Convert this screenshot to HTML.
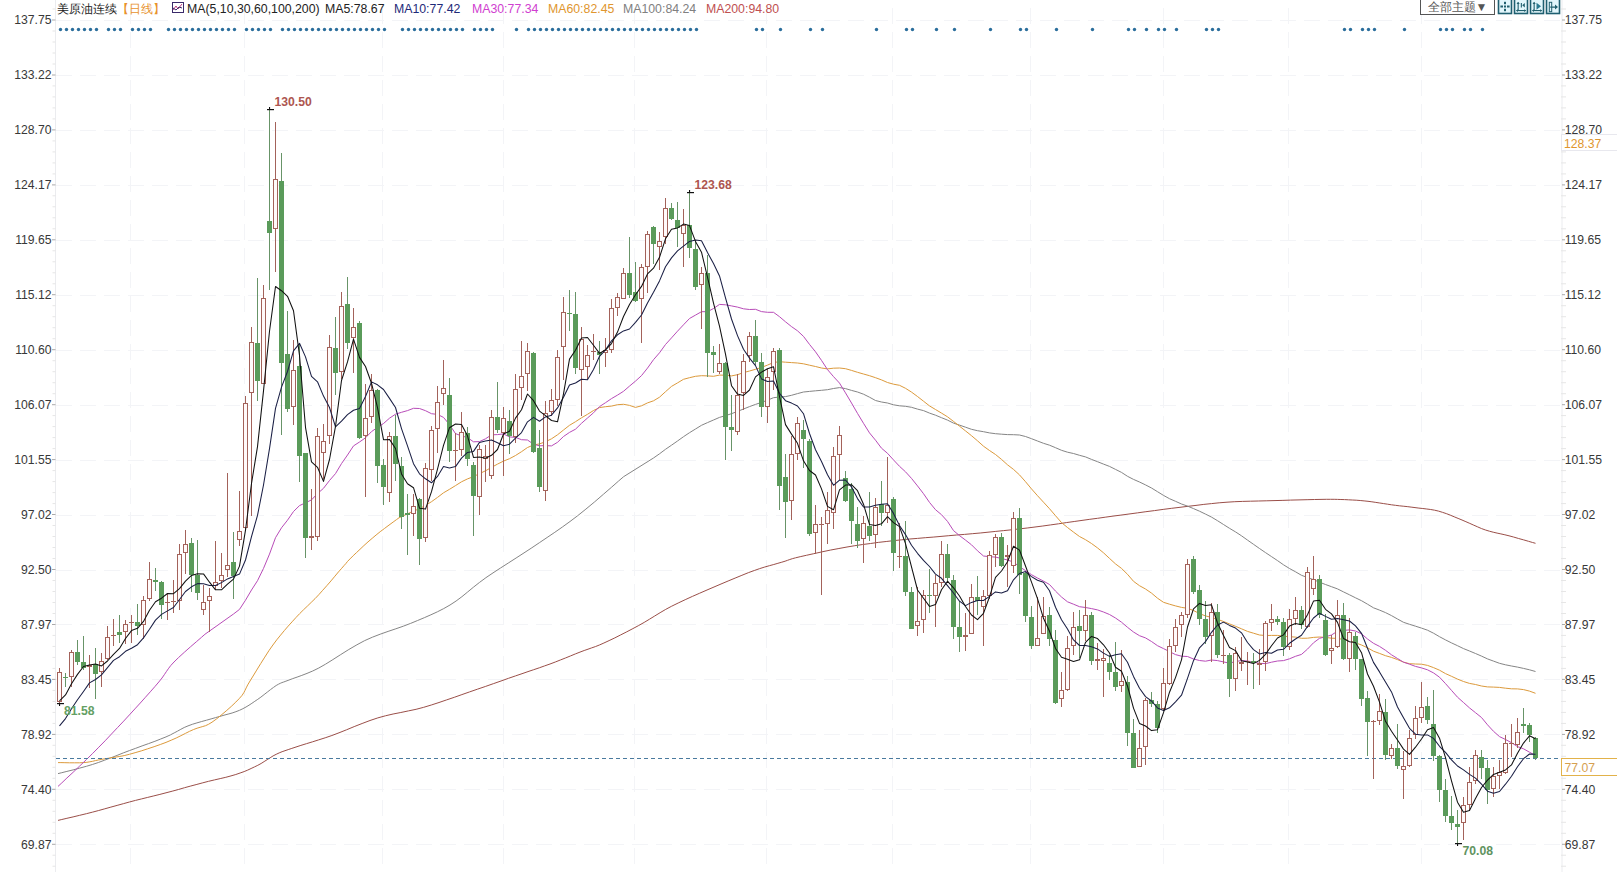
<!DOCTYPE html>
<html><head><meta charset="utf-8"><style>
html,body{margin:0;padding:0;background:#fff;}
body{width:1617px;height:872px;overflow:hidden;position:relative;font-family:"Liberation Sans",sans-serif;}
svg{position:absolute;left:0;top:0;}
svg text{font-family:"Liberation Sans",sans-serif;}
.hd{position:absolute;top:0.5px;height:16px;font-size:12.3px;line-height:16px;white-space:nowrap;}
.ic{position:absolute;top:0;width:12px;height:12px;border:1px solid #2a7fa0;background:#e4f5fb;}
</style></head><body>
<svg width="1617" height="872" viewBox="0 0 1617 872">
<line x1="56" y1="20.5" x2="1562" y2="20.5" stroke="#f3f4f7" stroke-width="1" stroke-dasharray="16,8"/>
<line x1="56" y1="75.5" x2="1562" y2="75.5" stroke="#f3f4f7" stroke-width="1" stroke-dasharray="16,8"/>
<line x1="56" y1="130.5" x2="1562" y2="130.5" stroke="#f3f4f7" stroke-width="1" stroke-dasharray="16,8"/>
<line x1="56" y1="185.5" x2="1562" y2="185.5" stroke="#f3f4f7" stroke-width="1" stroke-dasharray="16,8"/>
<line x1="56" y1="240.5" x2="1562" y2="240.5" stroke="#f3f4f7" stroke-width="1" stroke-dasharray="16,8"/>
<line x1="56" y1="295.5" x2="1562" y2="295.5" stroke="#f3f4f7" stroke-width="1" stroke-dasharray="16,8"/>
<line x1="56" y1="350.5" x2="1562" y2="350.5" stroke="#f3f4f7" stroke-width="1" stroke-dasharray="16,8"/>
<line x1="56" y1="405.5" x2="1562" y2="405.5" stroke="#f3f4f7" stroke-width="1" stroke-dasharray="16,8"/>
<line x1="56" y1="460.5" x2="1562" y2="460.5" stroke="#f3f4f7" stroke-width="1" stroke-dasharray="16,8"/>
<line x1="56" y1="515.5" x2="1562" y2="515.5" stroke="#f3f4f7" stroke-width="1" stroke-dasharray="16,8"/>
<line x1="56" y1="570.5" x2="1562" y2="570.5" stroke="#f3f4f7" stroke-width="1" stroke-dasharray="16,8"/>
<line x1="56" y1="624.5" x2="1562" y2="624.5" stroke="#f3f4f7" stroke-width="1" stroke-dasharray="16,8"/>
<line x1="56" y1="679.5" x2="1562" y2="679.5" stroke="#f3f4f7" stroke-width="1" stroke-dasharray="16,8"/>
<line x1="56" y1="734.5" x2="1562" y2="734.5" stroke="#f3f4f7" stroke-width="1" stroke-dasharray="16,8"/>
<line x1="56" y1="789.5" x2="1562" y2="789.5" stroke="#f3f4f7" stroke-width="1" stroke-dasharray="16,8"/>
<line x1="56" y1="844.5" x2="1562" y2="844.5" stroke="#f3f4f7" stroke-width="1" stroke-dasharray="16,8"/>
<line x1="130.5" y1="8" x2="130.5" y2="872" stroke="#f3f4f7" stroke-width="1" stroke-dasharray="16,8"/>
<line x1="244.5" y1="8" x2="244.5" y2="872" stroke="#f3f4f7" stroke-width="1" stroke-dasharray="16,8"/>
<line x1="382.5" y1="8" x2="382.5" y2="872" stroke="#f3f4f7" stroke-width="1" stroke-dasharray="16,8"/>
<line x1="503.5" y1="8" x2="503.5" y2="872" stroke="#f3f4f7" stroke-width="1" stroke-dasharray="16,8"/>
<line x1="634.5" y1="8" x2="634.5" y2="872" stroke="#f3f4f7" stroke-width="1" stroke-dasharray="16,8"/>
<line x1="766.5" y1="8" x2="766.5" y2="872" stroke="#f3f4f7" stroke-width="1" stroke-dasharray="16,8"/>
<line x1="892.5" y1="8" x2="892.5" y2="872" stroke="#f3f4f7" stroke-width="1" stroke-dasharray="16,8"/>
<line x1="1030.5" y1="8" x2="1030.5" y2="872" stroke="#f3f4f7" stroke-width="1" stroke-dasharray="16,8"/>
<line x1="1163.5" y1="8" x2="1163.5" y2="872" stroke="#f3f4f7" stroke-width="1" stroke-dasharray="16,8"/>
<line x1="1288.5" y1="8" x2="1288.5" y2="872" stroke="#f3f4f7" stroke-width="1" stroke-dasharray="16,8"/>
<line x1="1421.5" y1="8" x2="1421.5" y2="872" stroke="#f3f4f7" stroke-width="1" stroke-dasharray="16,8"/>
<line x1="55.5" y1="0" x2="55.5" y2="872" stroke="#ebecef" stroke-width="1"/>
<line x1="1562" y1="0" x2="1562" y2="872" stroke="#ebecef" stroke-width="1"/>
<rect x="52.5" y="8.5" width="3" height="1" fill="#e6e6e6"/>
<rect x="1561" y="8.5" width="5" height="1" fill="#e6e6e6"/>
<rect x="52.5" y="30.5" width="3" height="1" fill="#e6e6e6"/>
<rect x="1561" y="30.5" width="5" height="1" fill="#e6e6e6"/>
<rect x="52.5" y="41.5" width="3" height="1" fill="#e6e6e6"/>
<rect x="1561" y="41.5" width="5" height="1" fill="#e6e6e6"/>
<rect x="52.5" y="52.5" width="3" height="1" fill="#e6e6e6"/>
<rect x="1561" y="52.5" width="5" height="1" fill="#e6e6e6"/>
<rect x="52.5" y="63.5" width="3" height="1" fill="#e6e6e6"/>
<rect x="1561" y="63.5" width="5" height="1" fill="#e6e6e6"/>
<rect x="52.5" y="85.4" width="3" height="1" fill="#e6e6e6"/>
<rect x="1561" y="85.4" width="5" height="1" fill="#e6e6e6"/>
<rect x="52.5" y="96.4" width="3" height="1" fill="#e6e6e6"/>
<rect x="1561" y="96.4" width="5" height="1" fill="#e6e6e6"/>
<rect x="52.5" y="107.4" width="3" height="1" fill="#e6e6e6"/>
<rect x="1561" y="107.4" width="5" height="1" fill="#e6e6e6"/>
<rect x="52.5" y="118.4" width="3" height="1" fill="#e6e6e6"/>
<rect x="1561" y="118.4" width="5" height="1" fill="#e6e6e6"/>
<rect x="52.5" y="140.4" width="3" height="1" fill="#e6e6e6"/>
<rect x="1561" y="140.4" width="5" height="1" fill="#e6e6e6"/>
<rect x="52.5" y="151.4" width="3" height="1" fill="#e6e6e6"/>
<rect x="1561" y="151.4" width="5" height="1" fill="#e6e6e6"/>
<rect x="52.5" y="162.4" width="3" height="1" fill="#e6e6e6"/>
<rect x="1561" y="162.4" width="5" height="1" fill="#e6e6e6"/>
<rect x="52.5" y="173.4" width="3" height="1" fill="#e6e6e6"/>
<rect x="1561" y="173.4" width="5" height="1" fill="#e6e6e6"/>
<rect x="52.5" y="195.3" width="3" height="1" fill="#e6e6e6"/>
<rect x="1561" y="195.3" width="5" height="1" fill="#e6e6e6"/>
<rect x="52.5" y="206.3" width="3" height="1" fill="#e6e6e6"/>
<rect x="1561" y="206.3" width="5" height="1" fill="#e6e6e6"/>
<rect x="52.5" y="217.3" width="3" height="1" fill="#e6e6e6"/>
<rect x="1561" y="217.3" width="5" height="1" fill="#e6e6e6"/>
<rect x="52.5" y="228.3" width="3" height="1" fill="#e6e6e6"/>
<rect x="1561" y="228.3" width="5" height="1" fill="#e6e6e6"/>
<rect x="52.5" y="250.3" width="3" height="1" fill="#e6e6e6"/>
<rect x="1561" y="250.3" width="5" height="1" fill="#e6e6e6"/>
<rect x="52.5" y="261.3" width="3" height="1" fill="#e6e6e6"/>
<rect x="1561" y="261.3" width="5" height="1" fill="#e6e6e6"/>
<rect x="52.5" y="272.3" width="3" height="1" fill="#e6e6e6"/>
<rect x="1561" y="272.3" width="5" height="1" fill="#e6e6e6"/>
<rect x="52.5" y="283.3" width="3" height="1" fill="#e6e6e6"/>
<rect x="1561" y="283.3" width="5" height="1" fill="#e6e6e6"/>
<rect x="52.5" y="305.2" width="3" height="1" fill="#e6e6e6"/>
<rect x="1561" y="305.2" width="5" height="1" fill="#e6e6e6"/>
<rect x="52.5" y="316.2" width="3" height="1" fill="#e6e6e6"/>
<rect x="1561" y="316.2" width="5" height="1" fill="#e6e6e6"/>
<rect x="52.5" y="327.2" width="3" height="1" fill="#e6e6e6"/>
<rect x="1561" y="327.2" width="5" height="1" fill="#e6e6e6"/>
<rect x="52.5" y="338.2" width="3" height="1" fill="#e6e6e6"/>
<rect x="1561" y="338.2" width="5" height="1" fill="#e6e6e6"/>
<rect x="52.5" y="360.2" width="3" height="1" fill="#e6e6e6"/>
<rect x="1561" y="360.2" width="5" height="1" fill="#e6e6e6"/>
<rect x="52.5" y="371.2" width="3" height="1" fill="#e6e6e6"/>
<rect x="1561" y="371.2" width="5" height="1" fill="#e6e6e6"/>
<rect x="52.5" y="382.2" width="3" height="1" fill="#e6e6e6"/>
<rect x="1561" y="382.2" width="5" height="1" fill="#e6e6e6"/>
<rect x="52.5" y="393.2" width="3" height="1" fill="#e6e6e6"/>
<rect x="1561" y="393.2" width="5" height="1" fill="#e6e6e6"/>
<rect x="52.5" y="415.1" width="3" height="1" fill="#e6e6e6"/>
<rect x="1561" y="415.1" width="5" height="1" fill="#e6e6e6"/>
<rect x="52.5" y="426.1" width="3" height="1" fill="#e6e6e6"/>
<rect x="1561" y="426.1" width="5" height="1" fill="#e6e6e6"/>
<rect x="52.5" y="437.1" width="3" height="1" fill="#e6e6e6"/>
<rect x="1561" y="437.1" width="5" height="1" fill="#e6e6e6"/>
<rect x="52.5" y="448.1" width="3" height="1" fill="#e6e6e6"/>
<rect x="1561" y="448.1" width="5" height="1" fill="#e6e6e6"/>
<rect x="52.5" y="470.1" width="3" height="1" fill="#e6e6e6"/>
<rect x="1561" y="470.1" width="5" height="1" fill="#e6e6e6"/>
<rect x="52.5" y="481.1" width="3" height="1" fill="#e6e6e6"/>
<rect x="1561" y="481.1" width="5" height="1" fill="#e6e6e6"/>
<rect x="52.5" y="492.1" width="3" height="1" fill="#e6e6e6"/>
<rect x="1561" y="492.1" width="5" height="1" fill="#e6e6e6"/>
<rect x="52.5" y="503.1" width="3" height="1" fill="#e6e6e6"/>
<rect x="1561" y="503.1" width="5" height="1" fill="#e6e6e6"/>
<rect x="52.5" y="525.0" width="3" height="1" fill="#e6e6e6"/>
<rect x="1561" y="525.0" width="5" height="1" fill="#e6e6e6"/>
<rect x="52.5" y="536.0" width="3" height="1" fill="#e6e6e6"/>
<rect x="1561" y="536.0" width="5" height="1" fill="#e6e6e6"/>
<rect x="52.5" y="547.0" width="3" height="1" fill="#e6e6e6"/>
<rect x="1561" y="547.0" width="5" height="1" fill="#e6e6e6"/>
<rect x="52.5" y="558.0" width="3" height="1" fill="#e6e6e6"/>
<rect x="1561" y="558.0" width="5" height="1" fill="#e6e6e6"/>
<rect x="52.5" y="580.0" width="3" height="1" fill="#e6e6e6"/>
<rect x="1561" y="580.0" width="5" height="1" fill="#e6e6e6"/>
<rect x="52.5" y="591.0" width="3" height="1" fill="#e6e6e6"/>
<rect x="1561" y="591.0" width="5" height="1" fill="#e6e6e6"/>
<rect x="52.5" y="602.0" width="3" height="1" fill="#e6e6e6"/>
<rect x="1561" y="602.0" width="5" height="1" fill="#e6e6e6"/>
<rect x="52.5" y="613.0" width="3" height="1" fill="#e6e6e6"/>
<rect x="1561" y="613.0" width="5" height="1" fill="#e6e6e6"/>
<rect x="52.5" y="634.9" width="3" height="1" fill="#e6e6e6"/>
<rect x="1561" y="634.9" width="5" height="1" fill="#e6e6e6"/>
<rect x="52.5" y="645.9" width="3" height="1" fill="#e6e6e6"/>
<rect x="1561" y="645.9" width="5" height="1" fill="#e6e6e6"/>
<rect x="52.5" y="656.9" width="3" height="1" fill="#e6e6e6"/>
<rect x="1561" y="656.9" width="5" height="1" fill="#e6e6e6"/>
<rect x="52.5" y="667.9" width="3" height="1" fill="#e6e6e6"/>
<rect x="1561" y="667.9" width="5" height="1" fill="#e6e6e6"/>
<rect x="52.5" y="689.9" width="3" height="1" fill="#e6e6e6"/>
<rect x="1561" y="689.9" width="5" height="1" fill="#e6e6e6"/>
<rect x="52.5" y="700.9" width="3" height="1" fill="#e6e6e6"/>
<rect x="1561" y="700.9" width="5" height="1" fill="#e6e6e6"/>
<rect x="52.5" y="711.9" width="3" height="1" fill="#e6e6e6"/>
<rect x="1561" y="711.9" width="5" height="1" fill="#e6e6e6"/>
<rect x="52.5" y="722.9" width="3" height="1" fill="#e6e6e6"/>
<rect x="1561" y="722.9" width="5" height="1" fill="#e6e6e6"/>
<rect x="52.5" y="744.8" width="3" height="1" fill="#e6e6e6"/>
<rect x="1561" y="744.8" width="5" height="1" fill="#e6e6e6"/>
<rect x="52.5" y="755.8" width="3" height="1" fill="#e6e6e6"/>
<rect x="1561" y="755.8" width="5" height="1" fill="#e6e6e6"/>
<rect x="52.5" y="766.8" width="3" height="1" fill="#e6e6e6"/>
<rect x="1561" y="766.8" width="5" height="1" fill="#e6e6e6"/>
<rect x="52.5" y="777.8" width="3" height="1" fill="#e6e6e6"/>
<rect x="1561" y="777.8" width="5" height="1" fill="#e6e6e6"/>
<rect x="52.5" y="799.8" width="3" height="1" fill="#e6e6e6"/>
<rect x="1561" y="799.8" width="5" height="1" fill="#e6e6e6"/>
<rect x="52.5" y="810.8" width="3" height="1" fill="#e6e6e6"/>
<rect x="1561" y="810.8" width="5" height="1" fill="#e6e6e6"/>
<rect x="52.5" y="821.8" width="3" height="1" fill="#e6e6e6"/>
<rect x="1561" y="821.8" width="5" height="1" fill="#e6e6e6"/>
<rect x="52.5" y="832.8" width="3" height="1" fill="#e6e6e6"/>
<rect x="1561" y="832.8" width="5" height="1" fill="#e6e6e6"/>
<rect x="52.5" y="854.7" width="3" height="1" fill="#e6e6e6"/>
<rect x="1561" y="854.7" width="5" height="1" fill="#e6e6e6"/>
<rect x="52.5" y="865.7" width="3" height="1" fill="#e6e6e6"/>
<rect x="1561" y="865.7" width="5" height="1" fill="#e6e6e6"/>
<polyline points="58.0,820.4 61.8,819.5 66.9,818.3 73.1,816.9 79.7,815.3 86.4,813.7 92.7,812.1 98.7,810.5 104.8,808.8 110.9,807.1 117.1,805.4 123.3,803.7 129.4,802.0 135.5,800.4 141.6,798.9 147.7,797.4 153.8,795.9 159.9,794.4 166.0,792.8 172.2,791.2 178.4,789.5 184.6,787.7 190.8,786.0 196.9,784.4 202.8,782.8 208.6,781.3 214.5,779.9 220.2,778.6 225.8,777.3 231.0,775.9 235.8,774.5 240.1,773.0 244.1,771.6 247.7,770.1 251.1,768.5 254.5,766.9 257.8,765.3 261.1,763.5 264.1,761.6 267.1,759.7 270.1,757.8 273.1,755.9 276.2,754.3 279.2,752.9 282.1,751.7 285.0,750.7 288.2,749.6 291.8,748.4 296.0,747.0 300.9,745.4 306.4,743.7 312.3,741.9 318.6,739.9 325.2,737.8 331.9,735.5 339.0,732.8 346.5,729.8 354.2,726.6 362.1,723.5 370.0,720.5 377.8,717.9 385.4,715.8 393.1,714.0 400.8,712.5 408.4,710.9 416.1,709.3 423.7,707.3 431.3,705.0 439.0,702.5 446.6,699.9 454.3,697.3 461.9,694.6 469.6,691.9 477.4,689.2 485.3,686.5 493.3,683.7 501.0,681.0 508.5,678.3 515.5,675.9 522.0,673.7 528.0,671.6 533.7,669.7 539.3,667.8 544.6,665.9 550.0,664.0 555.3,662.0 560.6,659.9 565.7,657.9 570.6,655.9 575.4,653.9 580.0,652.1 584.2,650.5 588.0,649.2 591.6,647.9 595.4,646.6 599.4,645.0 603.9,643.0 609.1,640.6 614.8,637.9 620.7,634.9 626.8,631.8 632.9,628.6 638.7,625.5 644.2,622.4 649.5,619.2 654.7,616.0 660.1,612.7 665.7,609.4 671.7,606.2 678.2,603.0 685.2,599.7 692.4,596.4 699.7,593.2 707.0,590.0 714.0,587.0 721.0,584.0 728.1,581.0 735.1,578.1 741.9,575.3 748.3,572.7 754.3,570.5 759.7,568.6 764.8,567.0 769.4,565.7 773.8,564.5 777.9,563.3 781.8,562.2 785.1,561.2 787.6,560.3 789.8,559.5 792.3,558.7 795.6,557.8 800.2,556.7 806.4,555.3 813.7,553.7 821.8,551.9 830.3,550.1 838.9,548.5 847.0,547.0 854.8,545.7 862.7,544.5 870.5,543.5 878.3,542.4 886.2,541.5 894.0,540.6 901.8,539.8 909.7,539.0 917.5,538.4 925.3,537.7 933.2,537.1 941.0,536.4 948.8,535.7 956.7,535.0 964.5,534.4 972.3,533.7 980.2,533.0 988.0,532.2 995.8,531.4 1003.7,530.6 1011.5,529.8 1019.3,528.9 1027.2,528.0 1035.0,527.0 1042.8,526.0 1050.7,524.9 1058.5,523.8 1066.3,522.6 1074.2,521.5 1082.0,520.4 1089.8,519.3 1097.5,518.3 1105.2,517.2 1113.0,516.1 1120.9,515.1 1129.0,514.0 1137.3,512.9 1145.9,511.7 1154.5,510.6 1163.1,509.4 1171.7,508.3 1180.0,507.3 1188.1,506.3 1196.0,505.4 1203.8,504.4 1211.5,503.6 1219.2,502.8 1227.0,502.2 1234.8,501.7 1242.7,501.4 1250.5,501.2 1258.3,501.0 1266.2,500.8 1274.0,500.6 1282.1,500.4 1290.5,500.1 1299.0,499.9 1307.1,499.7 1314.5,499.5 1321.0,499.4 1326.3,499.3 1330.6,499.3 1334.2,499.3 1337.5,499.4 1340.9,499.5 1344.5,499.6 1348.4,499.8 1352.3,500.0 1356.2,500.2 1360.2,500.5 1364.1,500.9 1368.0,501.3 1371.9,501.8 1375.8,502.4 1379.8,503.0 1383.7,503.6 1387.6,504.2 1391.5,504.8 1395.4,505.3 1399.3,505.8 1403.2,506.2 1407.2,506.6 1411.1,507.1 1415.0,507.6 1418.9,508.1 1422.8,508.5 1426.8,509.0 1430.7,509.5 1434.6,510.2 1438.5,511.1 1442.4,512.3 1446.3,513.6 1450.2,515.1 1454.2,516.8 1458.1,518.4 1462.0,520.0 1465.9,521.7 1469.8,523.4 1473.8,525.2 1477.7,526.9 1481.6,528.6 1485.5,530.0 1489.4,531.2 1493.2,532.2 1497.1,533.1 1500.9,533.9 1504.9,534.8 1509.0,535.8 1513.5,537.0 1518.6,538.5 1523.7,539.9 1528.5,541.3 1532.6,542.5 1535.5,543.3" fill="none" stroke="#9a4e48" stroke-width="1" stroke-linejoin="round"/>
<polyline points="58.0,773.6 61.8,772.7 66.9,771.4 73.1,769.9 79.7,768.1 86.4,766.3 92.7,764.4 98.7,762.4 104.8,760.1 110.9,757.8 117.1,755.4 123.3,752.9 129.4,750.6 135.7,748.3 142.1,745.9 148.6,743.6 154.9,741.3 160.7,739.0 166.0,736.9 170.4,734.9 174.2,732.9 177.6,731.1 180.8,729.3 184.2,727.5 188.0,725.9 192.3,724.3 196.9,722.9 201.7,721.5 206.5,720.2 211.1,718.9 215.6,717.6 219.9,716.4 224.0,715.2 228.1,714.1 232.1,713.0 235.9,711.7 239.5,710.3 242.9,708.7 246.0,707.0 249.0,705.2 251.9,703.3 254.8,701.3 257.8,699.3 260.9,697.1 264.1,694.6 267.3,692.1 270.5,689.6 273.5,687.4 276.2,685.5 278.5,684.2 280.3,683.3 281.9,682.6 283.7,682.0 285.9,681.2 289.0,680.0 292.8,678.6 297.1,677.1 301.8,675.4 307.0,673.4 312.7,671.0 318.8,668.0 325.5,664.2 332.9,659.6 340.7,654.6 348.8,649.5 356.9,644.8 364.7,640.6 372.4,637.2 380.2,634.2 388.1,631.4 395.8,628.8 403.3,626.2 410.6,623.4 417.6,620.5 424.3,617.7 430.9,614.8 437.4,611.8 443.7,608.6 450.0,605.0 456.1,601.0 461.9,596.7 467.5,592.1 473.3,587.3 479.4,582.5 485.9,577.7 493.0,572.9 500.5,568.0 508.2,563.1 516.1,558.0 524.0,552.9 531.8,547.8 539.4,542.7 547.1,537.5 554.8,532.3 562.4,527.0 570.0,521.5 577.7,515.7 585.9,509.1 594.7,501.8 603.5,494.2 611.7,487.1 618.6,481.0 623.6,476.7 653.5,458.0 659.5,453.8 665.5,449.3 671.5,445.2 677.5,441.0 683.5,436.7 689.5,432.7 695.5,429.0 701.5,425.3 707.5,422.6 713.5,420.0 719.5,417.4 725.5,415.6 731.5,413.7 737.5,411.4 743.5,409.0 749.5,406.6 755.5,404.4 761.5,402.4 767.5,400.2 773.5,397.7 779.5,397.0 785.5,396.6 791.5,395.3 797.5,393.6 803.5,392.0 809.5,391.4 815.5,390.8 821.5,390.3 827.5,389.7 833.5,388.5 839.5,387.6 845.5,388.6 851.5,390.4 857.5,392.0 863.5,394.2 869.5,397.2 875.5,400.5 881.5,402.0 887.5,403.0 893.5,404.8 899.5,405.8 905.5,406.3 911.5,407.3 917.5,409.1 923.5,410.6 929.5,413.1 935.5,415.2 941.5,417.7 947.5,420.1 953.5,423.1 959.5,425.1 965.5,427.2 971.5,429.3 977.5,430.7 983.5,431.7 989.5,432.9 995.5,433.7 1001.5,434.2 1007.5,434.6 1013.5,434.7 1019.5,435.0 1025.5,436.5 1031.5,438.7 1037.5,441.0 1043.5,443.3 1049.5,445.2 1055.5,447.7 1061.5,450.3 1067.5,452.2 1073.5,453.5 1079.5,455.3 1085.5,456.9 1091.5,459.4 1097.5,461.7 1103.5,464.1 1109.5,466.4 1115.5,469.4 1121.5,472.4 1127.5,476.3 1133.5,479.4 1139.5,482.0 1145.5,484.9 1151.5,488.0 1157.5,491.7 1163.5,495.4 1169.5,498.7 1175.5,501.3 1181.5,504.0 1187.5,506.1 1193.5,508.6 1199.5,511.2 1205.5,514.1 1211.5,517.1 1217.5,520.7 1223.5,524.5 1229.5,528.3 1235.5,531.9 1241.5,535.8 1247.5,540.1 1253.5,544.3 1259.5,548.5 1265.5,552.6 1271.5,556.6 1277.5,560.6 1283.5,564.8 1289.5,568.5 1295.5,571.8 1301.5,575.3 1307.5,577.5 1313.5,579.7 1319.5,582.2 1325.5,584.5 1331.5,586.7 1337.5,588.9 1343.5,591.9 1349.5,594.8 1355.5,597.8 1361.5,600.7 1367.5,604.2 1373.5,607.8 1379.5,610.1 1385.5,612.6 1391.5,615.6 1397.5,619.0 1403.5,622.3 1409.5,624.3 1415.5,626.2 1421.5,628.1 1427.5,630.2 1433.5,633.2 1439.5,636.7 1445.5,639.9 1451.5,642.9 1457.5,645.7 1463.5,648.6 1469.5,651.0 1475.5,653.5 1481.5,656.1 1487.5,658.9 1493.5,661.1 1499.5,663.3 1505.5,664.8 1511.5,666.0 1517.5,667.1 1523.5,668.4 1529.5,669.8 1535.5,671.5" fill="none" stroke="#858585" stroke-width="1" stroke-linejoin="round"/>
<polyline points="58.0,762.6 60.9,762.6 64.9,762.7 69.6,762.8 74.6,762.8 79.4,762.8 83.5,762.6 86.9,762.3 89.8,761.8 92.6,761.3 95.4,760.6 98.4,760.0 101.9,759.3 105.9,758.6 110.1,758.0 114.5,757.3 119.2,756.5 124.2,755.6 129.4,754.3 135.1,752.7 141.3,750.9 147.7,748.8 154.1,746.7 160.3,744.5 166.0,742.4 171.2,740.2 176.2,738.0 180.9,735.7 185.4,733.4 189.6,731.3 193.6,729.5 197.1,728.2 200.1,727.3 202.8,726.5 205.5,725.7 208.5,724.3 212.0,722.2 216.3,719.1 221.1,715.2 226.2,710.9 231.3,706.4 235.8,702.1 239.5,698.3 242.1,695.3 243.8,692.7 245.0,690.4 246.2,687.9 247.7,684.9 250.0,681.0 253.1,676.0 256.7,670.1 260.7,663.6 264.8,657.1 268.9,650.7 272.9,645.0 276.7,639.9 280.6,635.1 284.4,630.5 288.2,626.1 292.1,621.8 295.9,617.6 299.7,613.6 303.5,609.8 307.4,606.1 311.2,602.4 315.0,598.7 318.8,594.7 322.7,590.3 326.9,585.6 331.0,580.9 334.9,576.2 338.5,571.9 341.7,568.3 344.1,565.5 346.0,563.4 347.4,561.6 348.9,560.0 350.8,558.1 353.2,555.7 356.4,552.7 360.0,549.3 363.9,545.6 368.0,541.9 372.2,538.3 376.1,535.0 380.2,531.7 384.6,528.4 389.0,525.1 393.1,522.1 396.5,519.6 399.0,517.8 413.5,511.0 419.5,508.8 425.5,505.4 431.5,501.7 437.5,497.4 443.5,492.8 449.5,489.3 455.5,485.6 461.5,481.8 467.5,478.9 473.5,476.6 479.5,473.6 485.5,470.8 491.5,467.4 497.5,464.1 503.5,461.1 509.5,458.7 515.5,455.5 521.5,451.7 527.5,447.5 533.5,445.0 539.5,443.9 545.5,441.7 551.5,438.8 557.5,434.8 563.5,430.0 569.5,425.3 575.5,421.7 581.5,417.8 587.5,414.3 593.5,410.5 599.5,407.6 605.5,406.7 611.5,406.1 617.5,404.7 623.5,404.3 629.5,405.4 635.5,407.4 641.5,405.8 647.5,402.9 653.5,400.8 659.5,397.2 665.5,391.7 671.5,386.4 677.5,382.9 683.5,379.3 689.5,377.7 695.5,376.3 701.5,375.7 707.5,375.9 713.5,376.3 719.5,375.1 725.5,375.2 731.5,375.9 737.5,374.7 743.5,372.6 749.5,371.0 755.5,369.3 761.5,367.4 767.5,365.1 773.5,362.5 779.5,361.7 785.5,362.2 791.5,362.6 797.5,363.0 803.5,363.8 809.5,365.2 815.5,366.5 821.5,368.0 827.5,368.9 833.5,368.2 839.5,368.0 845.5,368.7 851.5,370.4 857.5,372.3 863.5,374.0 869.5,375.7 875.5,377.7 881.5,379.9 887.5,382.5 893.5,384.2 899.5,385.3 905.5,388.3 911.5,392.1 917.5,396.5 923.5,401.2 929.5,405.9 935.5,409.5 941.5,413.1 947.5,416.8 953.5,421.4 959.5,426.2 965.5,430.9 971.5,435.7 977.5,440.8 983.5,446.2 989.5,450.5 995.5,454.5 1001.5,459.4 1007.5,464.8 1013.5,469.4 1019.5,474.9 1025.5,481.7 1031.5,488.9 1037.5,495.7 1043.5,502.2 1049.5,508.7 1055.5,515.7 1061.5,522.6 1067.5,527.5 1073.5,532.1 1079.5,536.5 1085.5,539.7 1091.5,543.5 1097.5,547.9 1103.5,552.8 1109.5,558.4 1115.5,563.9 1121.5,568.4 1127.5,574.3 1133.5,581.3 1139.5,585.7 1145.5,589.0 1151.5,593.1 1157.5,598.2 1163.5,602.3 1169.5,604.2 1175.5,605.9 1181.5,607.4 1187.5,608.3 1193.5,610.5 1199.5,613.6 1205.5,615.9 1211.5,617.4 1217.5,619.3 1223.5,621.5 1229.5,623.9 1235.5,626.3 1241.5,628.8 1247.5,631.4 1253.5,633.2 1259.5,635.0 1265.5,635.5 1271.5,635.4 1277.5,635.4 1283.5,636.3 1289.5,636.7 1295.5,637.1 1301.5,638.3 1307.5,638.2 1313.5,637.4 1319.5,637.0 1325.5,637.4 1331.5,638.2 1337.5,638.4 1343.5,639.5 1349.5,640.8 1355.5,642.8 1361.5,645.0 1367.5,647.8 1373.5,651.2 1379.5,653.4 1385.5,655.7 1391.5,657.4 1397.5,659.6 1403.5,662.1 1409.5,663.7 1415.5,664.0 1421.5,664.2 1427.5,665.4 1433.5,667.6 1439.5,670.2 1445.5,673.6 1451.5,676.3 1457.5,679.1 1463.5,681.5 1469.5,683.4 1475.5,684.5 1481.5,686.0 1487.5,686.9 1493.5,687.1 1499.5,687.4 1505.5,688.2 1511.5,688.8 1517.5,688.9 1523.5,689.6 1529.5,691.1 1535.5,693.3" fill="none" stroke="#dc9a3c" stroke-width="1" stroke-linejoin="round"/>
<polyline points="58.0,786.4 61.8,782.9 66.9,778.0 73.1,772.3 79.7,766.0 86.4,759.6 92.7,753.4 98.8,747.2 105.1,740.8 111.4,734.1 117.6,727.5 123.7,721.1 129.4,714.9 134.9,708.9 140.3,703.0 145.4,697.3 150.3,691.8 154.8,686.7 158.8,682.0 162.0,678.0 164.3,674.7 166.3,671.7 168.3,668.8 170.7,665.6 174.0,662.0 178.6,657.5 184.3,652.3 190.4,646.9 196.3,641.8 201.4,637.4 204.9,634.3 233.5,614.0 239.5,609.4 245.5,600.2 251.5,590.0 257.5,580.7 263.5,568.4 269.5,554.1 275.5,537.7 281.5,527.8 287.5,520.2 293.5,511.5 299.5,505.6 305.5,502.8 311.5,499.9 317.5,493.6 323.5,488.3 329.5,480.5 335.5,473.6 341.5,463.6 347.5,455.0 353.5,445.9 359.5,442.0 365.5,437.8 371.5,431.6 377.5,427.4 383.5,423.5 389.5,418.2 395.5,414.2 401.5,412.3 407.5,410.6 413.5,408.3 419.5,408.5 425.5,410.7 431.5,413.7 437.5,414.4 443.5,417.4 449.5,424.6 455.5,433.6 461.5,435.9 467.5,437.6 473.5,441.8 479.5,441.6 485.5,438.8 491.5,434.8 497.5,434.6 503.5,433.9 509.5,436.9 515.5,437.4 521.5,439.7 527.5,440.0 533.5,444.2 539.5,445.8 545.5,445.6 551.5,445.9 557.5,442.3 563.5,436.5 569.5,432.4 575.5,429.2 581.5,423.3 587.5,418.0 593.5,412.8 599.5,406.6 605.5,402.7 611.5,398.6 617.5,395.1 623.5,391.3 629.5,386.1 635.5,381.1 641.5,375.6 647.5,368.1 653.5,359.7 659.5,352.8 665.5,344.5 671.5,337.9 677.5,331.2 683.5,324.8 689.5,318.5 695.5,315.1 701.5,311.7 707.5,311.7 713.5,308.5 719.5,304.4 725.5,304.8 731.5,305.9 737.5,307.1 743.5,308.8 749.5,309.5 755.5,309.3 761.5,311.6 767.5,312.3 773.5,312.3 779.5,316.7 785.5,321.8 791.5,326.6 797.5,330.8 803.5,336.4 809.5,344.4 815.5,351.8 821.5,360.4 827.5,369.6 833.5,376.6 839.5,383.1 845.5,392.9 851.5,403.0 857.5,413.4 863.5,423.3 869.5,432.9 875.5,440.2 881.5,448.2 887.5,453.3 893.5,459.9 899.5,466.3 905.5,471.8 911.5,478.4 917.5,485.9 923.5,493.7 929.5,502.4 935.5,509.7 941.5,514.7 947.5,521.4 953.5,530.6 959.5,535.6 965.5,540.1 971.5,544.8 977.5,550.8 983.5,556.0 989.5,556.7 995.5,557.1 1001.5,558.5 1007.5,560.0 1013.5,562.1 1019.5,566.7 1025.5,570.6 1031.5,574.7 1037.5,578.0 1043.5,581.1 1049.5,584.5 1055.5,591.1 1061.5,597.0 1067.5,601.8 1073.5,604.2 1079.5,606.7 1085.5,607.5 1091.5,608.6 1097.5,609.9 1103.5,612.0 1109.5,614.5 1115.5,618.0 1121.5,622.2 1127.5,627.3 1133.5,632.0 1139.5,635.7 1145.5,637.9 1151.5,641.5 1157.5,645.7 1163.5,648.6 1169.5,651.6 1175.5,654.6 1181.5,656.2 1187.5,656.5 1193.5,659.0 1199.5,660.5 1205.5,661.2 1211.5,660.0 1217.5,660.6 1223.5,661.9 1229.5,663.2 1235.5,661.5 1241.5,660.6 1247.5,661.0 1253.5,662.2 1259.5,663.3 1265.5,663.6 1271.5,662.2 1277.5,661.0 1283.5,660.6 1289.5,658.8 1295.5,656.3 1301.5,654.4 1307.5,649.1 1313.5,642.8 1319.5,638.3 1325.5,636.8 1331.5,635.0 1337.5,631.2 1343.5,630.4 1349.5,629.9 1355.5,631.0 1361.5,633.8 1367.5,639.0 1373.5,643.3 1379.5,646.4 1385.5,650.3 1391.5,654.8 1397.5,658.5 1403.5,662.2 1409.5,664.2 1415.5,666.4 1421.5,667.9 1427.5,669.8 1433.5,672.9 1439.5,677.2 1445.5,683.6 1451.5,690.4 1457.5,697.2 1463.5,702.5 1469.5,707.9 1475.5,712.7 1481.5,717.5 1487.5,724.8 1493.5,731.3 1499.5,736.6 1505.5,739.5 1511.5,742.7 1517.5,746.6 1523.5,748.8 1529.5,752.2 1535.5,755.5" fill="none" stroke="#b84cb8" stroke-width="1" stroke-linejoin="round"/>
<line x1="56" y1="758.5" x2="1562" y2="758.5" stroke="#4a7a9e" stroke-width="1" stroke-dasharray="4,3"/>
<rect x="59" y="668" width="1" height="4" fill="#a3625a"/>
<rect x="59" y="702" width="1" height="1" fill="#a3625a"/>
<rect x="57.5" y="672.5" width="4" height="29" fill="#fffafa" stroke="#a3625a" stroke-width="1"/>
<rect x="65" y="673" width="1" height="14" fill="#689468"/>
<rect x="63" y="677" width="5" height="1" fill="#5a9b5a"/>
<rect x="71" y="650" width="1" height="2" fill="#a3625a"/>
<rect x="71" y="677" width="1" height="10" fill="#a3625a"/>
<rect x="69.5" y="652.5" width="4" height="24" fill="#fffafa" stroke="#a3625a" stroke-width="1"/>
<rect x="77" y="640" width="1" height="25" fill="#689468"/>
<rect x="75" y="652" width="5" height="10" fill="#5a9b5a"/>
<rect x="83" y="636" width="1" height="34" fill="#689468"/>
<rect x="81" y="662" width="5" height="6" fill="#5a9b5a"/>
<rect x="89" y="655" width="1" height="10" fill="#a3625a"/>
<rect x="89" y="667" width="1" height="21" fill="#a3625a"/>
<rect x="87" y="665" width="5" height="2" fill="#a3625a"/>
<rect x="95" y="648" width="1" height="51" fill="#689468"/>
<rect x="93" y="664" width="5" height="10" fill="#5a9b5a"/>
<rect x="101" y="653" width="1" height="8" fill="#a3625a"/>
<rect x="101" y="672" width="1" height="15" fill="#a3625a"/>
<rect x="99.5" y="661.5" width="4" height="10" fill="#fffafa" stroke="#a3625a" stroke-width="1"/>
<rect x="107" y="626" width="1" height="11" fill="#a3625a"/>
<rect x="107" y="659" width="1" height="1" fill="#a3625a"/>
<rect x="105.5" y="637.5" width="4" height="21" fill="#fffafa" stroke="#a3625a" stroke-width="1"/>
<rect x="113" y="619" width="1" height="16" fill="#a3625a"/>
<rect x="113" y="636" width="1" height="10" fill="#a3625a"/>
<rect x="111" y="635" width="5" height="1" fill="#a3625a"/>
<rect x="119" y="615" width="1" height="28" fill="#689468"/>
<rect x="117" y="632" width="5" height="3" fill="#5a9b5a"/>
<rect x="125" y="620" width="1" height="4" fill="#a3625a"/>
<rect x="125" y="632" width="1" height="12" fill="#a3625a"/>
<rect x="123.5" y="624.5" width="4" height="7" fill="#fffafa" stroke="#a3625a" stroke-width="1"/>
<rect x="131" y="615" width="1" height="7" fill="#a3625a"/>
<rect x="131" y="623" width="1" height="20" fill="#a3625a"/>
<rect x="129" y="622" width="5" height="1" fill="#a3625a"/>
<rect x="137" y="604" width="1" height="31" fill="#689468"/>
<rect x="135" y="622" width="5" height="4" fill="#5a9b5a"/>
<rect x="143" y="596" width="1" height="4" fill="#a3625a"/>
<rect x="143" y="625" width="1" height="14" fill="#a3625a"/>
<rect x="141.5" y="600.5" width="4" height="24" fill="#fffafa" stroke="#a3625a" stroke-width="1"/>
<rect x="149" y="562" width="1" height="17" fill="#a3625a"/>
<rect x="149" y="599" width="1" height="2" fill="#a3625a"/>
<rect x="147.5" y="579.5" width="4" height="19" fill="#fffafa" stroke="#a3625a" stroke-width="1"/>
<rect x="155" y="568" width="1" height="23" fill="#689468"/>
<rect x="153" y="580" width="5" height="2" fill="#5a9b5a"/>
<rect x="161" y="581" width="1" height="38" fill="#689468"/>
<rect x="159" y="582" width="5" height="23" fill="#5a9b5a"/>
<rect x="167" y="594" width="1" height="8" fill="#a3625a"/>
<rect x="167" y="603" width="1" height="17" fill="#a3625a"/>
<rect x="165" y="602" width="5" height="1" fill="#a3625a"/>
<rect x="173" y="580" width="1" height="21" fill="#a3625a"/>
<rect x="173" y="602" width="1" height="11" fill="#a3625a"/>
<rect x="171" y="601" width="5" height="1" fill="#a3625a"/>
<rect x="179" y="544" width="1" height="10" fill="#a3625a"/>
<rect x="179" y="601" width="1" height="9" fill="#a3625a"/>
<rect x="177.5" y="554.5" width="4" height="46" fill="#fffafa" stroke="#a3625a" stroke-width="1"/>
<rect x="185" y="530" width="1" height="14" fill="#a3625a"/>
<rect x="185" y="553" width="1" height="21" fill="#a3625a"/>
<rect x="183.5" y="544.5" width="4" height="8" fill="#fffafa" stroke="#a3625a" stroke-width="1"/>
<rect x="191" y="538" width="1" height="54" fill="#689468"/>
<rect x="189" y="543" width="5" height="32" fill="#5a9b5a"/>
<rect x="197" y="540" width="1" height="60" fill="#689468"/>
<rect x="195" y="575" width="5" height="18" fill="#5a9b5a"/>
<rect x="203" y="585" width="1" height="17" fill="#a3625a"/>
<rect x="203" y="610" width="1" height="5" fill="#a3625a"/>
<rect x="201.5" y="602.5" width="4" height="7" fill="#fffafa" stroke="#a3625a" stroke-width="1"/>
<rect x="209" y="588" width="1" height="8" fill="#a3625a"/>
<rect x="209" y="601" width="1" height="31" fill="#a3625a"/>
<rect x="207.5" y="596.5" width="4" height="4" fill="#fffafa" stroke="#a3625a" stroke-width="1"/>
<rect x="215" y="541" width="1" height="41" fill="#a3625a"/>
<rect x="215" y="586" width="1" height="4" fill="#a3625a"/>
<rect x="213.5" y="582.5" width="4" height="3" fill="#fffafa" stroke="#a3625a" stroke-width="1"/>
<rect x="221" y="553" width="1" height="22" fill="#a3625a"/>
<rect x="221" y="581" width="1" height="7" fill="#a3625a"/>
<rect x="219.5" y="575.5" width="4" height="5" fill="#fffafa" stroke="#a3625a" stroke-width="1"/>
<rect x="227" y="473" width="1" height="92" fill="#a3625a"/>
<rect x="227" y="570" width="1" height="7" fill="#a3625a"/>
<rect x="225.5" y="565.5" width="4" height="4" fill="#fffafa" stroke="#a3625a" stroke-width="1"/>
<rect x="233" y="532" width="1" height="67" fill="#689468"/>
<rect x="231" y="562" width="5" height="14" fill="#5a9b5a"/>
<rect x="239" y="491" width="1" height="40" fill="#a3625a"/>
<rect x="239" y="540" width="1" height="6" fill="#a3625a"/>
<rect x="237.5" y="531.5" width="4" height="8" fill="#fffafa" stroke="#a3625a" stroke-width="1"/>
<rect x="245" y="396" width="1" height="7" fill="#a3625a"/>
<rect x="245" y="528" width="1" height="3" fill="#a3625a"/>
<rect x="243.5" y="403.5" width="4" height="124" fill="#fffafa" stroke="#a3625a" stroke-width="1"/>
<rect x="251" y="327" width="1" height="15" fill="#a3625a"/>
<rect x="251" y="393" width="1" height="123" fill="#a3625a"/>
<rect x="249.5" y="342.5" width="4" height="50" fill="#fffafa" stroke="#a3625a" stroke-width="1"/>
<rect x="257" y="278" width="1" height="123" fill="#689468"/>
<rect x="255" y="343" width="5" height="38" fill="#5a9b5a"/>
<rect x="263" y="285" width="1" height="13" fill="#a3625a"/>
<rect x="263" y="384" width="1" height="0" fill="#a3625a"/>
<rect x="261.5" y="298.5" width="4" height="85" fill="#fffafa" stroke="#a3625a" stroke-width="1"/>
<rect x="269" y="108" width="1" height="182" fill="#689468"/>
<rect x="267" y="221" width="5" height="12" fill="#5a9b5a"/>
<rect x="275" y="122" width="1" height="57" fill="#a3625a"/>
<rect x="275" y="229" width="1" height="43" fill="#a3625a"/>
<rect x="273.5" y="179.5" width="4" height="49" fill="#fffafa" stroke="#a3625a" stroke-width="1"/>
<rect x="281" y="153" width="1" height="282" fill="#689468"/>
<rect x="279" y="181" width="5" height="182" fill="#5a9b5a"/>
<rect x="287" y="311" width="1" height="101" fill="#689468"/>
<rect x="285" y="354" width="5" height="55" fill="#5a9b5a"/>
<rect x="293" y="340" width="1" height="30" fill="#a3625a"/>
<rect x="293" y="407" width="1" height="18" fill="#a3625a"/>
<rect x="291.5" y="370.5" width="4" height="36" fill="#fffafa" stroke="#a3625a" stroke-width="1"/>
<rect x="299" y="343" width="1" height="139" fill="#689468"/>
<rect x="297" y="366" width="5" height="90" fill="#5a9b5a"/>
<rect x="305" y="453" width="1" height="105" fill="#689468"/>
<rect x="303" y="453" width="5" height="85" fill="#5a9b5a"/>
<rect x="311" y="489" width="1" height="47" fill="#a3625a"/>
<rect x="311" y="538" width="1" height="12" fill="#a3625a"/>
<rect x="309" y="536" width="5" height="2" fill="#a3625a"/>
<rect x="317" y="428" width="1" height="8" fill="#a3625a"/>
<rect x="317" y="537" width="1" height="4" fill="#a3625a"/>
<rect x="315.5" y="436.5" width="4" height="100" fill="#fffafa" stroke="#a3625a" stroke-width="1"/>
<rect x="323" y="424" width="1" height="17" fill="#a3625a"/>
<rect x="323" y="453" width="1" height="26" fill="#a3625a"/>
<rect x="321.5" y="441.5" width="4" height="11" fill="#fffafa" stroke="#a3625a" stroke-width="1"/>
<rect x="329" y="335" width="1" height="12" fill="#a3625a"/>
<rect x="329" y="436" width="1" height="8" fill="#a3625a"/>
<rect x="327.5" y="347.5" width="4" height="88" fill="#fffafa" stroke="#a3625a" stroke-width="1"/>
<rect x="335" y="317" width="1" height="78" fill="#689468"/>
<rect x="333" y="348" width="5" height="25" fill="#5a9b5a"/>
<rect x="341" y="292" width="1" height="14" fill="#a3625a"/>
<rect x="341" y="372" width="1" height="7" fill="#a3625a"/>
<rect x="339.5" y="306.5" width="4" height="65" fill="#fffafa" stroke="#a3625a" stroke-width="1"/>
<rect x="347" y="277" width="1" height="72" fill="#689468"/>
<rect x="345" y="304" width="5" height="39" fill="#5a9b5a"/>
<rect x="353" y="308" width="1" height="19" fill="#a3625a"/>
<rect x="353" y="338" width="1" height="35" fill="#a3625a"/>
<rect x="351.5" y="327.5" width="4" height="10" fill="#fffafa" stroke="#a3625a" stroke-width="1"/>
<rect x="359" y="321" width="1" height="118" fill="#689468"/>
<rect x="357" y="323" width="5" height="115" fill="#5a9b5a"/>
<rect x="365" y="384" width="1" height="34" fill="#a3625a"/>
<rect x="365" y="436" width="1" height="61" fill="#a3625a"/>
<rect x="363.5" y="418.5" width="4" height="17" fill="#fffafa" stroke="#a3625a" stroke-width="1"/>
<rect x="371" y="374" width="1" height="16" fill="#a3625a"/>
<rect x="371" y="417" width="1" height="6" fill="#a3625a"/>
<rect x="369.5" y="390.5" width="4" height="26" fill="#fffafa" stroke="#a3625a" stroke-width="1"/>
<rect x="377" y="389" width="1" height="94" fill="#689468"/>
<rect x="375" y="390" width="5" height="76" fill="#5a9b5a"/>
<rect x="383" y="459" width="1" height="46" fill="#689468"/>
<rect x="381" y="465" width="5" height="22" fill="#5a9b5a"/>
<rect x="389" y="432" width="1" height="4" fill="#a3625a"/>
<rect x="389" y="493" width="1" height="9" fill="#a3625a"/>
<rect x="387.5" y="436.5" width="4" height="56" fill="#fffafa" stroke="#a3625a" stroke-width="1"/>
<rect x="395" y="415" width="1" height="66" fill="#689468"/>
<rect x="393" y="436" width="5" height="28" fill="#5a9b5a"/>
<rect x="401" y="457" width="1" height="72" fill="#689468"/>
<rect x="399" y="466" width="5" height="51" fill="#5a9b5a"/>
<rect x="407" y="494" width="1" height="61" fill="#689468"/>
<rect x="405" y="513" width="5" height="2" fill="#5a9b5a"/>
<rect x="413" y="494" width="1" height="12" fill="#a3625a"/>
<rect x="413" y="514" width="1" height="22" fill="#a3625a"/>
<rect x="411.5" y="506.5" width="4" height="7" fill="#fffafa" stroke="#a3625a" stroke-width="1"/>
<rect x="419" y="498" width="1" height="67" fill="#689468"/>
<rect x="417" y="499" width="5" height="40" fill="#5a9b5a"/>
<rect x="425" y="463" width="1" height="5" fill="#a3625a"/>
<rect x="425" y="538" width="1" height="4" fill="#a3625a"/>
<rect x="423.5" y="468.5" width="4" height="69" fill="#fffafa" stroke="#a3625a" stroke-width="1"/>
<rect x="431" y="426" width="1" height="4" fill="#a3625a"/>
<rect x="431" y="470" width="1" height="11" fill="#a3625a"/>
<rect x="429.5" y="430.5" width="4" height="39" fill="#fffafa" stroke="#a3625a" stroke-width="1"/>
<rect x="437" y="386" width="1" height="16" fill="#a3625a"/>
<rect x="437" y="429" width="1" height="24" fill="#a3625a"/>
<rect x="435.5" y="402.5" width="4" height="26" fill="#fffafa" stroke="#a3625a" stroke-width="1"/>
<rect x="443" y="360" width="1" height="28" fill="#a3625a"/>
<rect x="443" y="394" width="1" height="11" fill="#a3625a"/>
<rect x="441.5" y="388.5" width="4" height="5" fill="#fffafa" stroke="#a3625a" stroke-width="1"/>
<rect x="449" y="378" width="1" height="84" fill="#689468"/>
<rect x="447" y="395" width="5" height="56" fill="#5a9b5a"/>
<rect x="455" y="433" width="1" height="17" fill="#a3625a"/>
<rect x="455" y="451" width="1" height="30" fill="#a3625a"/>
<rect x="453" y="450" width="5" height="1" fill="#a3625a"/>
<rect x="461" y="412" width="1" height="20" fill="#a3625a"/>
<rect x="461" y="450" width="1" height="6" fill="#a3625a"/>
<rect x="459.5" y="432.5" width="4" height="17" fill="#fffafa" stroke="#a3625a" stroke-width="1"/>
<rect x="467" y="427" width="1" height="39" fill="#689468"/>
<rect x="465" y="433" width="5" height="26" fill="#5a9b5a"/>
<rect x="473" y="462" width="1" height="74" fill="#689468"/>
<rect x="471" y="465" width="5" height="31" fill="#5a9b5a"/>
<rect x="479" y="445" width="1" height="4" fill="#a3625a"/>
<rect x="479" y="497" width="1" height="18" fill="#a3625a"/>
<rect x="477.5" y="449.5" width="4" height="47" fill="#fffafa" stroke="#a3625a" stroke-width="1"/>
<rect x="485" y="445" width="1" height="11" fill="#a3625a"/>
<rect x="485" y="459" width="1" height="23" fill="#a3625a"/>
<rect x="483.5" y="456.5" width="4" height="2" fill="#fffafa" stroke="#a3625a" stroke-width="1"/>
<rect x="491" y="410" width="1" height="7" fill="#a3625a"/>
<rect x="491" y="476" width="1" height="3" fill="#a3625a"/>
<rect x="489.5" y="417.5" width="4" height="58" fill="#fffafa" stroke="#a3625a" stroke-width="1"/>
<rect x="497" y="382" width="1" height="51" fill="#689468"/>
<rect x="495" y="417" width="5" height="13" fill="#5a9b5a"/>
<rect x="503" y="407" width="1" height="11" fill="#a3625a"/>
<rect x="503" y="433" width="1" height="43" fill="#a3625a"/>
<rect x="501.5" y="418.5" width="4" height="14" fill="#fffafa" stroke="#a3625a" stroke-width="1"/>
<rect x="509" y="410" width="1" height="44" fill="#689468"/>
<rect x="507" y="421" width="5" height="15" fill="#5a9b5a"/>
<rect x="515" y="374" width="1" height="15" fill="#a3625a"/>
<rect x="515" y="437" width="1" height="6" fill="#a3625a"/>
<rect x="513.5" y="389.5" width="4" height="47" fill="#fffafa" stroke="#a3625a" stroke-width="1"/>
<rect x="521" y="341" width="1" height="35" fill="#a3625a"/>
<rect x="521" y="388" width="1" height="12" fill="#a3625a"/>
<rect x="519.5" y="376.5" width="4" height="11" fill="#fffafa" stroke="#a3625a" stroke-width="1"/>
<rect x="527" y="343" width="1" height="8" fill="#a3625a"/>
<rect x="527" y="374" width="1" height="17" fill="#a3625a"/>
<rect x="525.5" y="351.5" width="4" height="22" fill="#fffafa" stroke="#a3625a" stroke-width="1"/>
<rect x="533" y="352" width="1" height="101" fill="#689468"/>
<rect x="531" y="353" width="5" height="99" fill="#5a9b5a"/>
<rect x="539" y="430" width="1" height="62" fill="#689468"/>
<rect x="537" y="448" width="5" height="39" fill="#5a9b5a"/>
<rect x="545" y="401" width="1" height="12" fill="#a3625a"/>
<rect x="545" y="491" width="1" height="10" fill="#a3625a"/>
<rect x="543.5" y="413.5" width="4" height="77" fill="#fffafa" stroke="#a3625a" stroke-width="1"/>
<rect x="551" y="389" width="1" height="11" fill="#a3625a"/>
<rect x="551" y="412" width="1" height="4" fill="#a3625a"/>
<rect x="549.5" y="400.5" width="4" height="11" fill="#fffafa" stroke="#a3625a" stroke-width="1"/>
<rect x="557" y="350" width="1" height="7" fill="#a3625a"/>
<rect x="557" y="400" width="1" height="6" fill="#a3625a"/>
<rect x="555.5" y="357.5" width="4" height="42" fill="#fffafa" stroke="#a3625a" stroke-width="1"/>
<rect x="563" y="297" width="1" height="15" fill="#a3625a"/>
<rect x="563" y="347" width="1" height="33" fill="#a3625a"/>
<rect x="561.5" y="312.5" width="4" height="34" fill="#fffafa" stroke="#a3625a" stroke-width="1"/>
<rect x="569" y="290" width="1" height="41" fill="#689468"/>
<rect x="567" y="313" width="5" height="1" fill="#5a9b5a"/>
<rect x="575" y="292" width="1" height="82" fill="#689468"/>
<rect x="573" y="314" width="5" height="54" fill="#5a9b5a"/>
<rect x="581" y="327" width="1" height="12" fill="#a3625a"/>
<rect x="581" y="370" width="1" height="46" fill="#a3625a"/>
<rect x="579.5" y="339.5" width="4" height="30" fill="#fffafa" stroke="#a3625a" stroke-width="1"/>
<rect x="587" y="345" width="1" height="10" fill="#a3625a"/>
<rect x="587" y="367" width="1" height="12" fill="#a3625a"/>
<rect x="585.5" y="355.5" width="4" height="11" fill="#fffafa" stroke="#a3625a" stroke-width="1"/>
<rect x="593" y="334" width="1" height="17" fill="#a3625a"/>
<rect x="593" y="352" width="1" height="8" fill="#a3625a"/>
<rect x="591" y="351" width="5" height="1" fill="#a3625a"/>
<rect x="599" y="341" width="1" height="33" fill="#689468"/>
<rect x="597" y="352" width="5" height="3" fill="#5a9b5a"/>
<rect x="605" y="338" width="1" height="12" fill="#a3625a"/>
<rect x="605" y="353" width="1" height="14" fill="#a3625a"/>
<rect x="603.5" y="350.5" width="4" height="2" fill="#fffafa" stroke="#a3625a" stroke-width="1"/>
<rect x="611" y="299" width="1" height="9" fill="#a3625a"/>
<rect x="611" y="350" width="1" height="3" fill="#a3625a"/>
<rect x="609.5" y="308.5" width="4" height="41" fill="#fffafa" stroke="#a3625a" stroke-width="1"/>
<rect x="617" y="293" width="1" height="4" fill="#a3625a"/>
<rect x="617" y="308" width="1" height="8" fill="#a3625a"/>
<rect x="615.5" y="297.5" width="4" height="10" fill="#fffafa" stroke="#a3625a" stroke-width="1"/>
<rect x="623" y="268" width="1" height="5" fill="#a3625a"/>
<rect x="623" y="299" width="1" height="0" fill="#a3625a"/>
<rect x="621.5" y="273.5" width="4" height="25" fill="#fffafa" stroke="#a3625a" stroke-width="1"/>
<rect x="629" y="237" width="1" height="61" fill="#689468"/>
<rect x="627" y="273" width="5" height="22" fill="#5a9b5a"/>
<rect x="635" y="262" width="1" height="40" fill="#689468"/>
<rect x="633" y="292" width="5" height="9" fill="#5a9b5a"/>
<rect x="641" y="264" width="1" height="3" fill="#a3625a"/>
<rect x="641" y="299" width="1" height="44" fill="#a3625a"/>
<rect x="639.5" y="267.5" width="4" height="31" fill="#fffafa" stroke="#a3625a" stroke-width="1"/>
<rect x="647" y="231" width="1" height="3" fill="#a3625a"/>
<rect x="647" y="267" width="1" height="26" fill="#a3625a"/>
<rect x="645.5" y="234.5" width="4" height="32" fill="#fffafa" stroke="#a3625a" stroke-width="1"/>
<rect x="653" y="226" width="1" height="38" fill="#689468"/>
<rect x="651" y="227" width="5" height="17" fill="#5a9b5a"/>
<rect x="659" y="232" width="1" height="9" fill="#a3625a"/>
<rect x="659" y="247" width="1" height="23" fill="#a3625a"/>
<rect x="657.5" y="241.5" width="4" height="5" fill="#fffafa" stroke="#a3625a" stroke-width="1"/>
<rect x="665" y="198" width="1" height="10" fill="#a3625a"/>
<rect x="665" y="237" width="1" height="7" fill="#a3625a"/>
<rect x="663.5" y="208.5" width="4" height="28" fill="#fffafa" stroke="#a3625a" stroke-width="1"/>
<rect x="671" y="203" width="1" height="17" fill="#689468"/>
<rect x="669" y="208" width="5" height="11" fill="#5a9b5a"/>
<rect x="677" y="202" width="1" height="45" fill="#689468"/>
<rect x="675" y="220" width="5" height="8" fill="#5a9b5a"/>
<rect x="683" y="209" width="1" height="16" fill="#a3625a"/>
<rect x="683" y="234" width="1" height="33" fill="#a3625a"/>
<rect x="681.5" y="225.5" width="4" height="8" fill="#fffafa" stroke="#a3625a" stroke-width="1"/>
<rect x="689" y="192" width="1" height="66" fill="#689468"/>
<rect x="687" y="225" width="5" height="23" fill="#5a9b5a"/>
<rect x="695" y="241" width="1" height="49" fill="#689468"/>
<rect x="693" y="249" width="5" height="38" fill="#5a9b5a"/>
<rect x="701" y="267" width="1" height="6" fill="#a3625a"/>
<rect x="701" y="285" width="1" height="44" fill="#a3625a"/>
<rect x="699.5" y="273.5" width="4" height="11" fill="#fffafa" stroke="#a3625a" stroke-width="1"/>
<rect x="707" y="255" width="1" height="122" fill="#689468"/>
<rect x="705" y="273" width="5" height="80" fill="#5a9b5a"/>
<rect x="713" y="346" width="1" height="27" fill="#689468"/>
<rect x="711" y="352" width="5" height="3" fill="#5a9b5a"/>
<rect x="719" y="344" width="1" height="19" fill="#a3625a"/>
<rect x="719" y="372" width="1" height="2" fill="#a3625a"/>
<rect x="717.5" y="363.5" width="4" height="8" fill="#fffafa" stroke="#a3625a" stroke-width="1"/>
<rect x="725" y="362" width="1" height="98" fill="#689468"/>
<rect x="723" y="363" width="5" height="64" fill="#5a9b5a"/>
<rect x="731" y="395" width="1" height="56" fill="#689468"/>
<rect x="729" y="427" width="5" height="3" fill="#5a9b5a"/>
<rect x="737" y="374" width="1" height="21" fill="#a3625a"/>
<rect x="737" y="432" width="1" height="3" fill="#a3625a"/>
<rect x="735.5" y="395.5" width="4" height="36" fill="#fffafa" stroke="#a3625a" stroke-width="1"/>
<rect x="743" y="354" width="1" height="7" fill="#a3625a"/>
<rect x="743" y="393" width="1" height="17" fill="#a3625a"/>
<rect x="741.5" y="361.5" width="4" height="31" fill="#fffafa" stroke="#a3625a" stroke-width="1"/>
<rect x="749" y="332" width="1" height="4" fill="#a3625a"/>
<rect x="749" y="356" width="1" height="6" fill="#a3625a"/>
<rect x="747.5" y="336.5" width="4" height="19" fill="#fffafa" stroke="#a3625a" stroke-width="1"/>
<rect x="755" y="320" width="1" height="45" fill="#689468"/>
<rect x="753" y="336" width="5" height="26" fill="#5a9b5a"/>
<rect x="761" y="353" width="1" height="64" fill="#689468"/>
<rect x="759" y="362" width="5" height="45" fill="#5a9b5a"/>
<rect x="767" y="369" width="1" height="8" fill="#a3625a"/>
<rect x="767" y="407" width="1" height="16" fill="#a3625a"/>
<rect x="765.5" y="377.5" width="4" height="29" fill="#fffafa" stroke="#a3625a" stroke-width="1"/>
<rect x="773" y="348" width="1" height="3" fill="#a3625a"/>
<rect x="773" y="372" width="1" height="18" fill="#a3625a"/>
<rect x="771.5" y="351.5" width="4" height="20" fill="#fffafa" stroke="#a3625a" stroke-width="1"/>
<rect x="779" y="348" width="1" height="162" fill="#689468"/>
<rect x="777" y="350" width="5" height="136" fill="#5a9b5a"/>
<rect x="785" y="454" width="1" height="84" fill="#689468"/>
<rect x="783" y="477" width="5" height="25" fill="#5a9b5a"/>
<rect x="791" y="436" width="1" height="18" fill="#a3625a"/>
<rect x="791" y="501" width="1" height="19" fill="#a3625a"/>
<rect x="789.5" y="454.5" width="4" height="46" fill="#fffafa" stroke="#a3625a" stroke-width="1"/>
<rect x="797" y="417" width="1" height="6" fill="#a3625a"/>
<rect x="797" y="454" width="1" height="6" fill="#a3625a"/>
<rect x="795.5" y="423.5" width="4" height="30" fill="#fffafa" stroke="#a3625a" stroke-width="1"/>
<rect x="803" y="420" width="1" height="48" fill="#689468"/>
<rect x="801" y="430" width="5" height="9" fill="#5a9b5a"/>
<rect x="809" y="439" width="1" height="97" fill="#689468"/>
<rect x="807" y="441" width="5" height="93" fill="#5a9b5a"/>
<rect x="815" y="505" width="1" height="19" fill="#a3625a"/>
<rect x="815" y="533" width="1" height="21" fill="#a3625a"/>
<rect x="813.5" y="524.5" width="4" height="8" fill="#fffafa" stroke="#a3625a" stroke-width="1"/>
<rect x="821" y="517" width="1" height="7" fill="#a3625a"/>
<rect x="821" y="525" width="1" height="70" fill="#a3625a"/>
<rect x="819" y="524" width="5" height="1" fill="#a3625a"/>
<rect x="827" y="492" width="1" height="18" fill="#a3625a"/>
<rect x="827" y="524" width="1" height="20" fill="#a3625a"/>
<rect x="825.5" y="510.5" width="4" height="13" fill="#fffafa" stroke="#a3625a" stroke-width="1"/>
<rect x="833" y="447" width="1" height="9" fill="#a3625a"/>
<rect x="833" y="513" width="1" height="16" fill="#a3625a"/>
<rect x="831.5" y="456.5" width="4" height="56" fill="#fffafa" stroke="#a3625a" stroke-width="1"/>
<rect x="839" y="426" width="1" height="9" fill="#a3625a"/>
<rect x="839" y="455" width="1" height="25" fill="#a3625a"/>
<rect x="837.5" y="435.5" width="4" height="19" fill="#fffafa" stroke="#a3625a" stroke-width="1"/>
<rect x="845" y="471" width="1" height="31" fill="#689468"/>
<rect x="843" y="478" width="5" height="23" fill="#5a9b5a"/>
<rect x="851" y="483" width="1" height="61" fill="#689468"/>
<rect x="849" y="489" width="5" height="32" fill="#5a9b5a"/>
<rect x="857" y="507" width="1" height="41" fill="#689468"/>
<rect x="855" y="524" width="5" height="17" fill="#5a9b5a"/>
<rect x="863" y="516" width="1" height="7" fill="#a3625a"/>
<rect x="863" y="539" width="1" height="24" fill="#a3625a"/>
<rect x="861.5" y="523.5" width="4" height="15" fill="#fffafa" stroke="#a3625a" stroke-width="1"/>
<rect x="869" y="492" width="1" height="49" fill="#689468"/>
<rect x="867" y="526" width="5" height="10" fill="#5a9b5a"/>
<rect x="875" y="498" width="1" height="9" fill="#a3625a"/>
<rect x="875" y="535" width="1" height="13" fill="#a3625a"/>
<rect x="873.5" y="507.5" width="4" height="27" fill="#fffafa" stroke="#a3625a" stroke-width="1"/>
<rect x="881" y="481" width="1" height="45" fill="#689468"/>
<rect x="879" y="504" width="5" height="9" fill="#5a9b5a"/>
<rect x="887" y="457" width="1" height="48" fill="#a3625a"/>
<rect x="887" y="513" width="1" height="10" fill="#a3625a"/>
<rect x="885.5" y="505.5" width="4" height="7" fill="#fffafa" stroke="#a3625a" stroke-width="1"/>
<rect x="893" y="497" width="1" height="74" fill="#689468"/>
<rect x="891" y="499" width="5" height="54" fill="#5a9b5a"/>
<rect x="899" y="523" width="1" height="33" fill="#a3625a"/>
<rect x="899" y="557" width="1" height="11" fill="#a3625a"/>
<rect x="897" y="556" width="5" height="1" fill="#a3625a"/>
<rect x="905" y="521" width="1" height="75" fill="#689468"/>
<rect x="903" y="556" width="5" height="36" fill="#5a9b5a"/>
<rect x="911" y="587" width="1" height="42" fill="#689468"/>
<rect x="909" y="592" width="5" height="37" fill="#5a9b5a"/>
<rect x="917" y="587" width="1" height="34" fill="#a3625a"/>
<rect x="917" y="626" width="1" height="10" fill="#a3625a"/>
<rect x="915.5" y="621.5" width="4" height="4" fill="#fffafa" stroke="#a3625a" stroke-width="1"/>
<rect x="923" y="590" width="1" height="5" fill="#a3625a"/>
<rect x="923" y="620" width="1" height="13" fill="#a3625a"/>
<rect x="921.5" y="595.5" width="4" height="24" fill="#fffafa" stroke="#a3625a" stroke-width="1"/>
<rect x="929" y="569" width="1" height="44" fill="#689468"/>
<rect x="927" y="595" width="5" height="1" fill="#5a9b5a"/>
<rect x="935" y="575" width="1" height="8" fill="#a3625a"/>
<rect x="935" y="596" width="1" height="31" fill="#a3625a"/>
<rect x="933.5" y="583.5" width="4" height="12" fill="#fffafa" stroke="#a3625a" stroke-width="1"/>
<rect x="941" y="541" width="1" height="13" fill="#a3625a"/>
<rect x="941" y="583" width="1" height="4" fill="#a3625a"/>
<rect x="939.5" y="554.5" width="4" height="28" fill="#fffafa" stroke="#a3625a" stroke-width="1"/>
<rect x="947" y="544" width="1" height="39" fill="#689468"/>
<rect x="945" y="554" width="5" height="24" fill="#5a9b5a"/>
<rect x="953" y="575" width="1" height="64" fill="#689468"/>
<rect x="951" y="580" width="5" height="47" fill="#5a9b5a"/>
<rect x="959" y="601" width="1" height="51" fill="#689468"/>
<rect x="957" y="627" width="5" height="10" fill="#5a9b5a"/>
<rect x="965" y="613" width="1" height="22" fill="#a3625a"/>
<rect x="965" y="637" width="1" height="14" fill="#a3625a"/>
<rect x="963" y="635" width="5" height="2" fill="#a3625a"/>
<rect x="971" y="584" width="1" height="13" fill="#a3625a"/>
<rect x="971" y="634" width="1" height="0" fill="#a3625a"/>
<rect x="969.5" y="597.5" width="4" height="36" fill="#fffafa" stroke="#a3625a" stroke-width="1"/>
<rect x="977" y="576" width="1" height="39" fill="#689468"/>
<rect x="975" y="597" width="5" height="4" fill="#5a9b5a"/>
<rect x="983" y="590" width="1" height="6" fill="#a3625a"/>
<rect x="983" y="607" width="1" height="39" fill="#a3625a"/>
<rect x="981.5" y="596.5" width="4" height="10" fill="#fffafa" stroke="#a3625a" stroke-width="1"/>
<rect x="989" y="551" width="1" height="4" fill="#a3625a"/>
<rect x="989" y="596" width="1" height="3" fill="#a3625a"/>
<rect x="987.5" y="555.5" width="4" height="40" fill="#fffafa" stroke="#a3625a" stroke-width="1"/>
<rect x="995" y="534" width="1" height="3" fill="#a3625a"/>
<rect x="995" y="555" width="1" height="12" fill="#a3625a"/>
<rect x="993.5" y="537.5" width="4" height="17" fill="#fffafa" stroke="#a3625a" stroke-width="1"/>
<rect x="1001" y="533" width="1" height="34" fill="#689468"/>
<rect x="999" y="537" width="5" height="29" fill="#5a9b5a"/>
<rect x="1007" y="545" width="1" height="10" fill="#a3625a"/>
<rect x="1007" y="557" width="1" height="30" fill="#a3625a"/>
<rect x="1005" y="555" width="5" height="2" fill="#a3625a"/>
<rect x="1013" y="512" width="1" height="6" fill="#a3625a"/>
<rect x="1013" y="566" width="1" height="7" fill="#a3625a"/>
<rect x="1011.5" y="518.5" width="4" height="47" fill="#fffafa" stroke="#a3625a" stroke-width="1"/>
<rect x="1019" y="508" width="1" height="86" fill="#689468"/>
<rect x="1017" y="518" width="5" height="57" fill="#5a9b5a"/>
<rect x="1025" y="572" width="1" height="50" fill="#689468"/>
<rect x="1023" y="573" width="5" height="43" fill="#5a9b5a"/>
<rect x="1031" y="606" width="1" height="43" fill="#689468"/>
<rect x="1029" y="617" width="5" height="29" fill="#5a9b5a"/>
<rect x="1037" y="597" width="1" height="41" fill="#a3625a"/>
<rect x="1037" y="646" width="1" height="0" fill="#a3625a"/>
<rect x="1035.5" y="638.5" width="4" height="7" fill="#fffafa" stroke="#a3625a" stroke-width="1"/>
<rect x="1043" y="597" width="1" height="19" fill="#a3625a"/>
<rect x="1043" y="634" width="1" height="0" fill="#a3625a"/>
<rect x="1041.5" y="616.5" width="4" height="17" fill="#fffafa" stroke="#a3625a" stroke-width="1"/>
<rect x="1049" y="607" width="1" height="39" fill="#689468"/>
<rect x="1047" y="615" width="5" height="24" fill="#5a9b5a"/>
<rect x="1055" y="630" width="1" height="74" fill="#689468"/>
<rect x="1053" y="640" width="5" height="63" fill="#5a9b5a"/>
<rect x="1061" y="672" width="1" height="18" fill="#a3625a"/>
<rect x="1061" y="699" width="1" height="8" fill="#a3625a"/>
<rect x="1059.5" y="690.5" width="4" height="8" fill="#fffafa" stroke="#a3625a" stroke-width="1"/>
<rect x="1067" y="636" width="1" height="12" fill="#a3625a"/>
<rect x="1067" y="690" width="1" height="1" fill="#a3625a"/>
<rect x="1065.5" y="648.5" width="4" height="41" fill="#fffafa" stroke="#a3625a" stroke-width="1"/>
<rect x="1073" y="612" width="1" height="15" fill="#a3625a"/>
<rect x="1073" y="646" width="1" height="9" fill="#a3625a"/>
<rect x="1071.5" y="627.5" width="4" height="18" fill="#fffafa" stroke="#a3625a" stroke-width="1"/>
<rect x="1079" y="610" width="1" height="48" fill="#689468"/>
<rect x="1077" y="626" width="5" height="5" fill="#5a9b5a"/>
<rect x="1085" y="600" width="1" height="15" fill="#a3625a"/>
<rect x="1085" y="631" width="1" height="10" fill="#a3625a"/>
<rect x="1083.5" y="615.5" width="4" height="15" fill="#fffafa" stroke="#a3625a" stroke-width="1"/>
<rect x="1091" y="612" width="1" height="53" fill="#689468"/>
<rect x="1089" y="615" width="5" height="46" fill="#5a9b5a"/>
<rect x="1097" y="643" width="1" height="16" fill="#a3625a"/>
<rect x="1097" y="661" width="1" height="9" fill="#a3625a"/>
<rect x="1095" y="659" width="5" height="2" fill="#a3625a"/>
<rect x="1103" y="649" width="1" height="9" fill="#a3625a"/>
<rect x="1103" y="661" width="1" height="36" fill="#a3625a"/>
<rect x="1101.5" y="658.5" width="4" height="2" fill="#fffafa" stroke="#a3625a" stroke-width="1"/>
<rect x="1109" y="655" width="1" height="25" fill="#689468"/>
<rect x="1107" y="663" width="5" height="9" fill="#5a9b5a"/>
<rect x="1115" y="642" width="1" height="49" fill="#689468"/>
<rect x="1113" y="672" width="5" height="15" fill="#5a9b5a"/>
<rect x="1121" y="650" width="1" height="31" fill="#a3625a"/>
<rect x="1121" y="686" width="1" height="6" fill="#a3625a"/>
<rect x="1119.5" y="681.5" width="4" height="4" fill="#fffafa" stroke="#a3625a" stroke-width="1"/>
<rect x="1127" y="676" width="1" height="70" fill="#689468"/>
<rect x="1125" y="682" width="5" height="51" fill="#5a9b5a"/>
<rect x="1133" y="719" width="1" height="49" fill="#689468"/>
<rect x="1131" y="733" width="5" height="35" fill="#5a9b5a"/>
<rect x="1139" y="730" width="1" height="18" fill="#a3625a"/>
<rect x="1139" y="767" width="1" height="0" fill="#a3625a"/>
<rect x="1137.5" y="748.5" width="4" height="18" fill="#fffafa" stroke="#a3625a" stroke-width="1"/>
<rect x="1145" y="698" width="1" height="2" fill="#a3625a"/>
<rect x="1145" y="747" width="1" height="18" fill="#a3625a"/>
<rect x="1143.5" y="700.5" width="4" height="46" fill="#fffafa" stroke="#a3625a" stroke-width="1"/>
<rect x="1151" y="692" width="1" height="15" fill="#689468"/>
<rect x="1149" y="700" width="5" height="4" fill="#5a9b5a"/>
<rect x="1157" y="701" width="1" height="32" fill="#689468"/>
<rect x="1155" y="704" width="5" height="24" fill="#5a9b5a"/>
<rect x="1163" y="668" width="1" height="15" fill="#a3625a"/>
<rect x="1163" y="709" width="1" height="1" fill="#a3625a"/>
<rect x="1161.5" y="683.5" width="4" height="25" fill="#fffafa" stroke="#a3625a" stroke-width="1"/>
<rect x="1169" y="639" width="1" height="7" fill="#a3625a"/>
<rect x="1169" y="684" width="1" height="1" fill="#a3625a"/>
<rect x="1167.5" y="646.5" width="4" height="37" fill="#fffafa" stroke="#a3625a" stroke-width="1"/>
<rect x="1175" y="619" width="1" height="8" fill="#a3625a"/>
<rect x="1175" y="646" width="1" height="6" fill="#a3625a"/>
<rect x="1173.5" y="627.5" width="4" height="18" fill="#fffafa" stroke="#a3625a" stroke-width="1"/>
<rect x="1181" y="612" width="1" height="3" fill="#a3625a"/>
<rect x="1181" y="625" width="1" height="12" fill="#a3625a"/>
<rect x="1179.5" y="615.5" width="4" height="9" fill="#fffafa" stroke="#a3625a" stroke-width="1"/>
<rect x="1187" y="559" width="1" height="5" fill="#a3625a"/>
<rect x="1187" y="615" width="1" height="3" fill="#a3625a"/>
<rect x="1185.5" y="564.5" width="4" height="50" fill="#fffafa" stroke="#a3625a" stroke-width="1"/>
<rect x="1193" y="556" width="1" height="38" fill="#689468"/>
<rect x="1191" y="559" width="5" height="33" fill="#5a9b5a"/>
<rect x="1199" y="585" width="1" height="40" fill="#689468"/>
<rect x="1197" y="590" width="5" height="29" fill="#5a9b5a"/>
<rect x="1205" y="601" width="1" height="43" fill="#689468"/>
<rect x="1203" y="619" width="5" height="18" fill="#5a9b5a"/>
<rect x="1211" y="603" width="1" height="9" fill="#a3625a"/>
<rect x="1211" y="636" width="1" height="26" fill="#a3625a"/>
<rect x="1209.5" y="612.5" width="4" height="23" fill="#fffafa" stroke="#a3625a" stroke-width="1"/>
<rect x="1217" y="604" width="1" height="54" fill="#689468"/>
<rect x="1215" y="612" width="5" height="43" fill="#5a9b5a"/>
<rect x="1223" y="630" width="1" height="25" fill="#a3625a"/>
<rect x="1223" y="656" width="1" height="8" fill="#a3625a"/>
<rect x="1221" y="655" width="5" height="1" fill="#a3625a"/>
<rect x="1229" y="653" width="1" height="44" fill="#689468"/>
<rect x="1227" y="655" width="5" height="24" fill="#5a9b5a"/>
<rect x="1235" y="647" width="1" height="6" fill="#a3625a"/>
<rect x="1235" y="679" width="1" height="12" fill="#a3625a"/>
<rect x="1233.5" y="653.5" width="4" height="25" fill="#fffafa" stroke="#a3625a" stroke-width="1"/>
<rect x="1241" y="637" width="1" height="25" fill="#a3625a"/>
<rect x="1241" y="664" width="1" height="7" fill="#a3625a"/>
<rect x="1239" y="662" width="5" height="2" fill="#a3625a"/>
<rect x="1247" y="652" width="1" height="9" fill="#a3625a"/>
<rect x="1247" y="662" width="1" height="23" fill="#a3625a"/>
<rect x="1245" y="661" width="5" height="1" fill="#a3625a"/>
<rect x="1253" y="653" width="1" height="36" fill="#689468"/>
<rect x="1251" y="661" width="5" height="2" fill="#5a9b5a"/>
<rect x="1259" y="649" width="1" height="14" fill="#a3625a"/>
<rect x="1259" y="665" width="1" height="20" fill="#a3625a"/>
<rect x="1257" y="663" width="5" height="2" fill="#a3625a"/>
<rect x="1265" y="621" width="1" height="2" fill="#a3625a"/>
<rect x="1265" y="662" width="1" height="9" fill="#a3625a"/>
<rect x="1263.5" y="623.5" width="4" height="38" fill="#fffafa" stroke="#a3625a" stroke-width="1"/>
<rect x="1271" y="604" width="1" height="15" fill="#a3625a"/>
<rect x="1271" y="623" width="1" height="8" fill="#a3625a"/>
<rect x="1269.5" y="619.5" width="4" height="3" fill="#fffafa" stroke="#a3625a" stroke-width="1"/>
<rect x="1277" y="616" width="1" height="9" fill="#689468"/>
<rect x="1275" y="619" width="5" height="3" fill="#5a9b5a"/>
<rect x="1283" y="618" width="1" height="38" fill="#689468"/>
<rect x="1281" y="622" width="5" height="25" fill="#5a9b5a"/>
<rect x="1289" y="609" width="1" height="10" fill="#a3625a"/>
<rect x="1289" y="647" width="1" height="3" fill="#a3625a"/>
<rect x="1287.5" y="619.5" width="4" height="27" fill="#fffafa" stroke="#a3625a" stroke-width="1"/>
<rect x="1295" y="597" width="1" height="13" fill="#a3625a"/>
<rect x="1295" y="619" width="1" height="6" fill="#a3625a"/>
<rect x="1293.5" y="610.5" width="4" height="8" fill="#fffafa" stroke="#a3625a" stroke-width="1"/>
<rect x="1301" y="606" width="1" height="23" fill="#689468"/>
<rect x="1299" y="610" width="5" height="15" fill="#5a9b5a"/>
<rect x="1307" y="567" width="1" height="5" fill="#a3625a"/>
<rect x="1307" y="627" width="1" height="1" fill="#a3625a"/>
<rect x="1305.5" y="572.5" width="4" height="54" fill="#fffafa" stroke="#a3625a" stroke-width="1"/>
<rect x="1313" y="556" width="1" height="23" fill="#a3625a"/>
<rect x="1313" y="589" width="1" height="6" fill="#a3625a"/>
<rect x="1311.5" y="579.5" width="4" height="9" fill="#fffafa" stroke="#a3625a" stroke-width="1"/>
<rect x="1319" y="575" width="1" height="43" fill="#689468"/>
<rect x="1317" y="579" width="5" height="36" fill="#5a9b5a"/>
<rect x="1325" y="614" width="1" height="42" fill="#689468"/>
<rect x="1323" y="620" width="5" height="35" fill="#5a9b5a"/>
<rect x="1331" y="635" width="1" height="13" fill="#a3625a"/>
<rect x="1331" y="651" width="1" height="13" fill="#a3625a"/>
<rect x="1329.5" y="648.5" width="4" height="2" fill="#fffafa" stroke="#a3625a" stroke-width="1"/>
<rect x="1337" y="600" width="1" height="15" fill="#a3625a"/>
<rect x="1337" y="647" width="1" height="1" fill="#a3625a"/>
<rect x="1335.5" y="615.5" width="4" height="31" fill="#fffafa" stroke="#a3625a" stroke-width="1"/>
<rect x="1343" y="603" width="1" height="57" fill="#689468"/>
<rect x="1341" y="615" width="5" height="44" fill="#5a9b5a"/>
<rect x="1349" y="618" width="1" height="14" fill="#a3625a"/>
<rect x="1349" y="659" width="1" height="13" fill="#a3625a"/>
<rect x="1347.5" y="632.5" width="4" height="26" fill="#fffafa" stroke="#a3625a" stroke-width="1"/>
<rect x="1355" y="632" width="1" height="38" fill="#689468"/>
<rect x="1353" y="636" width="5" height="23" fill="#5a9b5a"/>
<rect x="1361" y="659" width="1" height="47" fill="#689468"/>
<rect x="1359" y="659" width="5" height="40" fill="#5a9b5a"/>
<rect x="1367" y="691" width="1" height="65" fill="#689468"/>
<rect x="1365" y="698" width="5" height="24" fill="#5a9b5a"/>
<rect x="1373" y="720" width="1" height="1" fill="#a3625a"/>
<rect x="1373" y="722" width="1" height="57" fill="#a3625a"/>
<rect x="1371" y="721" width="5" height="1" fill="#a3625a"/>
<rect x="1379" y="694" width="1" height="17" fill="#a3625a"/>
<rect x="1379" y="721" width="1" height="4" fill="#a3625a"/>
<rect x="1377.5" y="711.5" width="4" height="9" fill="#fffafa" stroke="#a3625a" stroke-width="1"/>
<rect x="1385" y="699" width="1" height="61" fill="#689468"/>
<rect x="1383" y="712" width="5" height="43" fill="#5a9b5a"/>
<rect x="1391" y="744" width="1" height="4" fill="#a3625a"/>
<rect x="1391" y="756" width="1" height="3" fill="#a3625a"/>
<rect x="1389.5" y="748.5" width="4" height="7" fill="#fffafa" stroke="#a3625a" stroke-width="1"/>
<rect x="1397" y="724" width="1" height="45" fill="#689468"/>
<rect x="1395" y="748" width="5" height="18" fill="#5a9b5a"/>
<rect x="1403" y="751" width="1" height="15" fill="#a3625a"/>
<rect x="1403" y="770" width="1" height="29" fill="#a3625a"/>
<rect x="1401.5" y="766.5" width="4" height="3" fill="#fffafa" stroke="#a3625a" stroke-width="1"/>
<rect x="1409" y="730" width="1" height="8" fill="#a3625a"/>
<rect x="1409" y="766" width="1" height="1" fill="#a3625a"/>
<rect x="1407.5" y="738.5" width="4" height="27" fill="#fffafa" stroke="#a3625a" stroke-width="1"/>
<rect x="1415" y="706" width="1" height="12" fill="#a3625a"/>
<rect x="1415" y="735" width="1" height="4" fill="#a3625a"/>
<rect x="1413.5" y="718.5" width="4" height="16" fill="#fffafa" stroke="#a3625a" stroke-width="1"/>
<rect x="1421" y="682" width="1" height="25" fill="#a3625a"/>
<rect x="1421" y="718" width="1" height="5" fill="#a3625a"/>
<rect x="1419.5" y="707.5" width="4" height="10" fill="#fffafa" stroke="#a3625a" stroke-width="1"/>
<rect x="1427" y="697" width="1" height="27" fill="#689468"/>
<rect x="1425" y="706" width="5" height="14" fill="#5a9b5a"/>
<rect x="1433" y="690" width="1" height="71" fill="#689468"/>
<rect x="1431" y="724" width="5" height="32" fill="#5a9b5a"/>
<rect x="1439" y="755" width="1" height="47" fill="#689468"/>
<rect x="1437" y="756" width="5" height="34" fill="#5a9b5a"/>
<rect x="1445" y="779" width="1" height="43" fill="#689468"/>
<rect x="1443" y="790" width="5" height="26" fill="#5a9b5a"/>
<rect x="1451" y="796" width="1" height="34" fill="#689468"/>
<rect x="1449" y="816" width="5" height="7" fill="#5a9b5a"/>
<rect x="1457" y="810" width="1" height="33" fill="#689468"/>
<rect x="1455" y="824" width="5" height="3" fill="#5a9b5a"/>
<rect x="1463" y="797" width="1" height="8" fill="#a3625a"/>
<rect x="1463" y="823" width="1" height="17" fill="#a3625a"/>
<rect x="1461.5" y="805.5" width="4" height="17" fill="#fffafa" stroke="#a3625a" stroke-width="1"/>
<rect x="1469" y="767" width="1" height="15" fill="#a3625a"/>
<rect x="1469" y="805" width="1" height="6" fill="#a3625a"/>
<rect x="1467.5" y="782.5" width="4" height="22" fill="#fffafa" stroke="#a3625a" stroke-width="1"/>
<rect x="1475" y="750" width="1" height="5" fill="#a3625a"/>
<rect x="1475" y="781" width="1" height="3" fill="#a3625a"/>
<rect x="1473.5" y="755.5" width="4" height="25" fill="#fffafa" stroke="#a3625a" stroke-width="1"/>
<rect x="1481" y="750" width="1" height="29" fill="#689468"/>
<rect x="1479" y="757" width="5" height="11" fill="#5a9b5a"/>
<rect x="1487" y="760" width="1" height="44" fill="#689468"/>
<rect x="1485" y="768" width="5" height="22" fill="#5a9b5a"/>
<rect x="1493" y="767" width="1" height="9" fill="#a3625a"/>
<rect x="1493" y="789" width="1" height="8" fill="#a3625a"/>
<rect x="1491.5" y="776.5" width="4" height="12" fill="#fffafa" stroke="#a3625a" stroke-width="1"/>
<rect x="1499" y="760" width="1" height="12" fill="#a3625a"/>
<rect x="1499" y="776" width="1" height="13" fill="#a3625a"/>
<rect x="1497.5" y="772.5" width="4" height="3" fill="#fffafa" stroke="#a3625a" stroke-width="1"/>
<rect x="1505" y="735" width="1" height="8" fill="#a3625a"/>
<rect x="1505" y="773" width="1" height="1" fill="#a3625a"/>
<rect x="1503.5" y="743.5" width="4" height="29" fill="#fffafa" stroke="#a3625a" stroke-width="1"/>
<rect x="1511" y="724" width="1" height="19" fill="#a3625a"/>
<rect x="1511" y="744" width="1" height="13" fill="#a3625a"/>
<rect x="1509" y="743" width="5" height="1" fill="#a3625a"/>
<rect x="1517" y="718" width="1" height="14" fill="#a3625a"/>
<rect x="1517" y="745" width="1" height="3" fill="#a3625a"/>
<rect x="1515.5" y="732.5" width="4" height="12" fill="#fffafa" stroke="#a3625a" stroke-width="1"/>
<rect x="1523" y="708" width="1" height="25" fill="#689468"/>
<rect x="1521" y="724" width="5" height="2" fill="#5a9b5a"/>
<rect x="1529" y="723" width="1" height="19" fill="#689468"/>
<rect x="1527" y="725" width="5" height="10" fill="#5a9b5a"/>
<rect x="1535" y="737" width="1" height="23" fill="#689468"/>
<rect x="1533" y="738" width="5" height="20" fill="#5a9b5a"/>
<polyline points="59.5,725.9 65.5,718.6 71.5,708.7 77.5,699.8 83.5,691.5 89.5,682.9 95.5,679.5 101.5,674.8 107.5,667.7 113.5,660.4 119.5,656.7 125.5,651.3 131.5,648.3 137.5,644.7 143.5,637.9 149.5,629.3 155.5,620.1 161.5,614.4 167.5,610.9 173.5,607.5 179.5,599.5 185.5,591.5 191.5,586.8 197.5,583.6 203.5,583.8 209.5,585.5 215.5,585.5 221.5,582.6 227.5,578.9 233.5,576.5 239.5,574.1 245.5,560.0 251.5,536.7 257.5,515.4 263.5,485.0 269.5,448.7 275.5,408.3 281.5,387.1 287.5,371.5 293.5,350.8 299.5,343.3 305.5,356.9 311.5,376.3 317.5,381.8 323.5,396.1 329.5,407.5 335.5,426.9 341.5,421.2 347.5,414.6 353.5,410.3 359.5,408.5 365.5,396.5 371.5,381.9 377.5,384.8 383.5,389.5 389.5,398.4 395.5,407.5 401.5,428.6 407.5,445.8 413.5,463.7 419.5,473.8 425.5,478.8 431.5,482.8 437.5,476.4 443.5,466.5 449.5,467.9 455.5,466.6 461.5,458.1 467.5,452.4 473.5,451.4 479.5,442.4 485.5,441.1 491.5,439.9 497.5,442.7 503.5,445.7 509.5,444.2 515.5,438.1 521.5,432.6 527.5,421.8 533.5,417.4 539.5,421.2 545.5,416.9 551.5,415.2 557.5,407.9 563.5,397.3 569.5,385.1 575.5,383.0 581.5,379.2 587.5,379.7 593.5,369.5 599.5,356.3 605.5,350.0 611.5,340.8 617.5,334.8 623.5,330.9 629.5,329.0 635.5,322.3 641.5,315.0 647.5,303.0 653.5,292.3 659.5,280.9 665.5,266.7 671.5,257.9 677.5,250.9 683.5,246.1 689.5,241.4 695.5,240.1 701.5,240.7 707.5,252.6 713.5,263.6 719.5,275.9 725.5,297.8 731.5,319.0 737.5,335.6 743.5,349.3 749.5,358.1 755.5,365.6 761.5,378.9 767.5,381.4 773.5,381.0 779.5,393.3 785.5,400.7 791.5,403.1 797.5,406.0 803.5,413.7 809.5,433.5 815.5,449.8 821.5,461.5 827.5,474.8 833.5,485.3 839.5,480.2 845.5,480.1 851.5,486.8 857.5,498.6 863.5,507.0 869.5,507.1 875.5,505.3 881.5,504.2 887.5,503.7 893.5,513.4 899.5,525.5 905.5,534.6 911.5,545.3 917.5,553.3 923.5,560.4 929.5,566.5 935.5,574.1 941.5,578.3 947.5,585.6 953.5,593.0 959.5,601.2 965.5,605.6 971.5,602.4 977.5,600.4 983.5,600.5 989.5,596.4 995.5,591.9 1001.5,593.0 1007.5,590.7 1013.5,579.8 1019.5,573.5 1025.5,571.6 1031.5,576.6 1037.5,580.2 1043.5,582.3 1049.5,590.7 1055.5,607.2 1061.5,619.7 1067.5,629.0 1073.5,639.9 1079.5,645.5 1085.5,645.4 1091.5,646.8 1097.5,648.9 1103.5,653.1 1109.5,656.4 1115.5,654.8 1121.5,653.8 1127.5,662.3 1133.5,676.4 1139.5,688.2 1145.5,696.6 1151.5,701.0 1157.5,707.9 1163.5,710.4 1169.5,707.8 1175.5,701.8 1181.5,695.2 1187.5,678.4 1193.5,660.7 1199.5,647.8 1205.5,641.6 1211.5,632.3 1217.5,625.0 1223.5,622.1 1229.5,625.4 1235.5,628.1 1241.5,632.8 1247.5,642.5 1253.5,649.6 1259.5,653.9 1265.5,652.5 1271.5,653.3 1277.5,650.0 1283.5,649.3 1289.5,643.3 1295.5,639.0 1301.5,635.3 1307.5,626.4 1313.5,618.0 1319.5,613.2 1325.5,616.4 1331.5,619.3 1337.5,618.6 1343.5,619.8 1349.5,621.0 1355.5,625.9 1361.5,633.3 1367.5,648.2 1373.5,662.4 1379.5,671.9 1385.5,681.9 1391.5,691.9 1397.5,707.0 1403.5,717.7 1409.5,728.3 1415.5,734.2 1421.5,735.1 1427.5,734.9 1433.5,738.4 1439.5,746.3 1445.5,752.4 1451.5,759.9 1457.5,766.0 1463.5,769.9 1469.5,774.4 1475.5,778.1 1481.5,784.2 1487.5,791.2 1493.5,793.3 1499.5,791.5 1505.5,784.2 1511.5,776.2 1517.5,766.7 1523.5,758.7 1529.5,754.0 1535.5,754.3" fill="none" stroke="#1a1f45" stroke-width="1.05" stroke-linejoin="round"/>
<polyline points="59.5,700.9 65.5,694.9 71.5,683.7 77.5,674.4 83.5,666.5 89.5,665.0 95.5,664.1 101.5,665.9 107.5,661.0 113.5,654.3 119.5,648.4 125.5,638.5 131.5,630.6 137.5,628.3 143.5,621.4 149.5,610.2 155.5,601.7 161.5,598.2 167.5,593.5 173.5,593.7 179.5,588.7 185.5,581.2 191.5,575.4 197.5,573.7 203.5,573.9 209.5,582.2 215.5,589.8 221.5,589.8 227.5,584.2 233.5,579.1 239.5,566.1 245.5,530.2 251.5,483.5 257.5,446.6 263.5,390.9 269.5,331.3 275.5,286.5 281.5,290.7 287.5,296.3 293.5,310.7 299.5,355.4 305.5,427.3 311.5,461.9 317.5,467.3 323.5,481.4 329.5,459.5 335.5,426.4 341.5,380.5 347.5,361.9 353.5,339.2 359.5,357.4 365.5,366.5 371.5,383.2 377.5,407.7 383.5,439.7 389.5,439.4 395.5,448.5 401.5,473.9 407.5,483.8 413.5,487.7 419.5,508.2 425.5,509.1 431.5,491.7 437.5,469.1 443.5,445.4 449.5,427.7 455.5,424.0 461.5,424.4 467.5,435.8 473.5,457.4 479.5,457.1 485.5,458.2 491.5,455.3 497.5,449.5 503.5,434.0 509.5,431.3 515.5,418.1 521.5,409.8 527.5,394.0 533.5,400.7 539.5,411.1 545.5,415.7 551.5,420.5 557.5,421.8 563.5,393.8 569.5,359.1 575.5,350.2 581.5,337.9 587.5,337.5 593.5,345.3 599.5,353.4 605.5,349.8 611.5,343.6 617.5,332.1 623.5,316.5 629.5,304.5 635.5,294.7 641.5,286.4 647.5,273.9 653.5,268.2 659.5,257.3 665.5,238.8 671.5,229.3 677.5,227.9 683.5,224.1 689.5,225.6 695.5,241.4 701.5,252.2 707.5,277.2 713.5,303.2 719.5,326.2 725.5,354.2 731.5,385.7 737.5,394.1 743.5,395.4 749.5,390.0 755.5,376.9 761.5,372.1 767.5,368.7 773.5,366.7 779.5,396.5 785.5,424.6 791.5,434.1 797.5,443.3 803.5,460.8 809.5,470.5 815.5,475.0 821.5,488.9 827.5,506.4 833.5,509.8 839.5,489.9 845.5,485.1 851.5,484.7 857.5,490.7 863.5,504.2 869.5,524.4 875.5,525.6 881.5,523.8 887.5,516.6 893.5,522.6 899.5,526.6 905.5,543.6 911.5,566.9 917.5,590.0 923.5,598.3 929.5,606.4 935.5,604.6 941.5,589.7 947.5,581.2 953.5,587.8 959.5,596.0 965.5,606.5 971.5,615.0 977.5,619.7 983.5,613.3 989.5,596.9 995.5,577.3 1001.5,571.0 1007.5,561.8 1013.5,546.3 1019.5,550.1 1025.5,566.0 1031.5,582.1 1037.5,598.6 1043.5,618.3 1049.5,631.2 1055.5,648.5 1061.5,657.3 1067.5,659.3 1073.5,661.4 1079.5,659.8 1085.5,642.3 1091.5,636.4 1097.5,638.6 1103.5,644.8 1109.5,653.0 1115.5,667.3 1121.5,671.3 1127.5,686.0 1133.5,708.1 1139.5,723.4 1145.5,726.0 1151.5,730.6 1157.5,729.7 1163.5,712.7 1169.5,692.2 1175.5,677.6 1181.5,659.8 1187.5,627.0 1193.5,608.8 1199.5,603.4 1205.5,605.5 1211.5,604.8 1217.5,623.0 1223.5,635.5 1229.5,647.5 1235.5,650.6 1241.5,660.8 1247.5,662.0 1253.5,663.6 1259.5,660.4 1265.5,654.4 1271.5,645.8 1277.5,638.0 1283.5,634.9 1289.5,626.1 1295.5,623.6 1301.5,624.8 1307.5,614.8 1313.5,601.1 1319.5,600.3 1325.5,609.3 1331.5,613.9 1337.5,622.4 1343.5,638.5 1349.5,641.8 1355.5,642.5 1361.5,652.7 1367.5,674.0 1373.5,686.3 1379.5,702.1 1385.5,721.3 1391.5,731.2 1397.5,740.0 1403.5,749.1 1409.5,754.4 1415.5,747.2 1421.5,739.0 1427.5,729.7 1433.5,727.6 1439.5,738.2 1445.5,757.7 1451.5,780.8 1457.5,802.2 1463.5,812.2 1469.5,810.6 1475.5,798.5 1481.5,787.5 1487.5,780.2 1493.5,774.4 1499.5,772.3 1505.5,769.9 1511.5,764.9 1517.5,753.2 1523.5,743.1 1529.5,735.8 1535.5,738.7" fill="none" stroke="#111111" stroke-width="1.05" stroke-linejoin="round"/>
<circle cx="60.5" cy="29.5" r="1.7" fill="#2b6e9c"/>
<circle cx="66.5" cy="29.5" r="1.7" fill="#2b6e9c"/>
<circle cx="72.5" cy="29.5" r="1.7" fill="#2b6e9c"/>
<circle cx="78.5" cy="29.5" r="1.7" fill="#2b6e9c"/>
<circle cx="84.5" cy="29.5" r="1.7" fill="#2b6e9c"/>
<circle cx="90.5" cy="29.5" r="1.7" fill="#2b6e9c"/>
<circle cx="96.5" cy="29.5" r="1.7" fill="#2b6e9c"/>
<circle cx="108.5" cy="29.5" r="1.7" fill="#2b6e9c"/>
<circle cx="114.5" cy="29.5" r="1.7" fill="#2b6e9c"/>
<circle cx="120.5" cy="29.5" r="1.7" fill="#2b6e9c"/>
<circle cx="132.5" cy="29.5" r="1.7" fill="#2b6e9c"/>
<circle cx="138.5" cy="29.5" r="1.7" fill="#2b6e9c"/>
<circle cx="144.5" cy="29.5" r="1.7" fill="#2b6e9c"/>
<circle cx="150.5" cy="29.5" r="1.7" fill="#2b6e9c"/>
<circle cx="168.5" cy="29.5" r="1.7" fill="#2b6e9c"/>
<circle cx="174.5" cy="29.5" r="1.7" fill="#2b6e9c"/>
<circle cx="180.5" cy="29.5" r="1.7" fill="#2b6e9c"/>
<circle cx="186.5" cy="29.5" r="1.7" fill="#2b6e9c"/>
<circle cx="192.5" cy="29.5" r="1.7" fill="#2b6e9c"/>
<circle cx="198.5" cy="29.5" r="1.7" fill="#2b6e9c"/>
<circle cx="204.5" cy="29.5" r="1.7" fill="#2b6e9c"/>
<circle cx="210.5" cy="29.5" r="1.7" fill="#2b6e9c"/>
<circle cx="216.5" cy="29.5" r="1.7" fill="#2b6e9c"/>
<circle cx="222.5" cy="29.5" r="1.7" fill="#2b6e9c"/>
<circle cx="228.5" cy="29.5" r="1.7" fill="#2b6e9c"/>
<circle cx="234.5" cy="29.5" r="1.7" fill="#2b6e9c"/>
<circle cx="246.5" cy="29.5" r="1.7" fill="#2b6e9c"/>
<circle cx="252.5" cy="29.5" r="1.7" fill="#2b6e9c"/>
<circle cx="258.5" cy="29.5" r="1.7" fill="#2b6e9c"/>
<circle cx="264.5" cy="29.5" r="1.7" fill="#2b6e9c"/>
<circle cx="270.5" cy="29.5" r="1.7" fill="#2b6e9c"/>
<circle cx="282.5" cy="29.5" r="1.7" fill="#2b6e9c"/>
<circle cx="288.5" cy="29.5" r="1.7" fill="#2b6e9c"/>
<circle cx="294.5" cy="29.5" r="1.7" fill="#2b6e9c"/>
<circle cx="300.5" cy="29.5" r="1.7" fill="#2b6e9c"/>
<circle cx="306.5" cy="29.5" r="1.7" fill="#2b6e9c"/>
<circle cx="312.5" cy="29.5" r="1.7" fill="#2b6e9c"/>
<circle cx="318.5" cy="29.5" r="1.7" fill="#2b6e9c"/>
<circle cx="324.5" cy="29.5" r="1.7" fill="#2b6e9c"/>
<circle cx="330.5" cy="29.5" r="1.7" fill="#2b6e9c"/>
<circle cx="336.5" cy="29.5" r="1.7" fill="#2b6e9c"/>
<circle cx="342.5" cy="29.5" r="1.7" fill="#2b6e9c"/>
<circle cx="348.5" cy="29.5" r="1.7" fill="#2b6e9c"/>
<circle cx="354.5" cy="29.5" r="1.7" fill="#2b6e9c"/>
<circle cx="360.5" cy="29.5" r="1.7" fill="#2b6e9c"/>
<circle cx="366.5" cy="29.5" r="1.7" fill="#2b6e9c"/>
<circle cx="372.5" cy="29.5" r="1.7" fill="#2b6e9c"/>
<circle cx="378.5" cy="29.5" r="1.7" fill="#2b6e9c"/>
<circle cx="384.5" cy="29.5" r="1.7" fill="#2b6e9c"/>
<circle cx="402.5" cy="29.5" r="1.7" fill="#2b6e9c"/>
<circle cx="408.5" cy="29.5" r="1.7" fill="#2b6e9c"/>
<circle cx="414.5" cy="29.5" r="1.7" fill="#2b6e9c"/>
<circle cx="420.5" cy="29.5" r="1.7" fill="#2b6e9c"/>
<circle cx="426.5" cy="29.5" r="1.7" fill="#2b6e9c"/>
<circle cx="432.5" cy="29.5" r="1.7" fill="#2b6e9c"/>
<circle cx="438.5" cy="29.5" r="1.7" fill="#2b6e9c"/>
<circle cx="444.5" cy="29.5" r="1.7" fill="#2b6e9c"/>
<circle cx="450.5" cy="29.5" r="1.7" fill="#2b6e9c"/>
<circle cx="456.5" cy="29.5" r="1.7" fill="#2b6e9c"/>
<circle cx="462.5" cy="29.5" r="1.7" fill="#2b6e9c"/>
<circle cx="474.5" cy="29.5" r="1.7" fill="#2b6e9c"/>
<circle cx="480.5" cy="29.5" r="1.7" fill="#2b6e9c"/>
<circle cx="486.5" cy="29.5" r="1.7" fill="#2b6e9c"/>
<circle cx="492.5" cy="29.5" r="1.7" fill="#2b6e9c"/>
<circle cx="516.5" cy="29.5" r="1.7" fill="#2b6e9c"/>
<circle cx="528.5" cy="29.5" r="1.7" fill="#2b6e9c"/>
<circle cx="534.5" cy="29.5" r="1.7" fill="#2b6e9c"/>
<circle cx="540.5" cy="29.5" r="1.7" fill="#2b6e9c"/>
<circle cx="546.5" cy="29.5" r="1.7" fill="#2b6e9c"/>
<circle cx="552.5" cy="29.5" r="1.7" fill="#2b6e9c"/>
<circle cx="558.5" cy="29.5" r="1.7" fill="#2b6e9c"/>
<circle cx="564.5" cy="29.5" r="1.7" fill="#2b6e9c"/>
<circle cx="570.5" cy="29.5" r="1.7" fill="#2b6e9c"/>
<circle cx="576.5" cy="29.5" r="1.7" fill="#2b6e9c"/>
<circle cx="582.5" cy="29.5" r="1.7" fill="#2b6e9c"/>
<circle cx="588.5" cy="29.5" r="1.7" fill="#2b6e9c"/>
<circle cx="594.5" cy="29.5" r="1.7" fill="#2b6e9c"/>
<circle cx="600.5" cy="29.5" r="1.7" fill="#2b6e9c"/>
<circle cx="606.5" cy="29.5" r="1.7" fill="#2b6e9c"/>
<circle cx="612.5" cy="29.5" r="1.7" fill="#2b6e9c"/>
<circle cx="618.5" cy="29.5" r="1.7" fill="#2b6e9c"/>
<circle cx="624.5" cy="29.5" r="1.7" fill="#2b6e9c"/>
<circle cx="630.5" cy="29.5" r="1.7" fill="#2b6e9c"/>
<circle cx="636.5" cy="29.5" r="1.7" fill="#2b6e9c"/>
<circle cx="642.5" cy="29.5" r="1.7" fill="#2b6e9c"/>
<circle cx="648.5" cy="29.5" r="1.7" fill="#2b6e9c"/>
<circle cx="654.5" cy="29.5" r="1.7" fill="#2b6e9c"/>
<circle cx="660.5" cy="29.5" r="1.7" fill="#2b6e9c"/>
<circle cx="666.5" cy="29.5" r="1.7" fill="#2b6e9c"/>
<circle cx="672.5" cy="29.5" r="1.7" fill="#2b6e9c"/>
<circle cx="678.5" cy="29.5" r="1.7" fill="#2b6e9c"/>
<circle cx="684.5" cy="29.5" r="1.7" fill="#2b6e9c"/>
<circle cx="690.5" cy="29.5" r="1.7" fill="#2b6e9c"/>
<circle cx="696.5" cy="29.5" r="1.7" fill="#2b6e9c"/>
<circle cx="756.5" cy="29.5" r="1.7" fill="#2b6e9c"/>
<circle cx="762.5" cy="29.5" r="1.7" fill="#2b6e9c"/>
<circle cx="780.5" cy="29.5" r="1.7" fill="#2b6e9c"/>
<circle cx="810.5" cy="29.5" r="1.7" fill="#2b6e9c"/>
<circle cx="822.5" cy="29.5" r="1.7" fill="#2b6e9c"/>
<circle cx="876.5" cy="29.5" r="1.7" fill="#2b6e9c"/>
<circle cx="906.5" cy="29.5" r="1.7" fill="#2b6e9c"/>
<circle cx="912.5" cy="29.5" r="1.7" fill="#2b6e9c"/>
<circle cx="936.5" cy="29.5" r="1.7" fill="#2b6e9c"/>
<circle cx="954.5" cy="29.5" r="1.7" fill="#2b6e9c"/>
<circle cx="990.5" cy="29.5" r="1.7" fill="#2b6e9c"/>
<circle cx="1020.5" cy="29.5" r="1.7" fill="#2b6e9c"/>
<circle cx="1026.5" cy="29.5" r="1.7" fill="#2b6e9c"/>
<circle cx="1056.5" cy="29.5" r="1.7" fill="#2b6e9c"/>
<circle cx="1092.5" cy="29.5" r="1.7" fill="#2b6e9c"/>
<circle cx="1128.5" cy="29.5" r="1.7" fill="#2b6e9c"/>
<circle cx="1134.5" cy="29.5" r="1.7" fill="#2b6e9c"/>
<circle cx="1146.5" cy="29.5" r="1.7" fill="#2b6e9c"/>
<circle cx="1158.5" cy="29.5" r="1.7" fill="#2b6e9c"/>
<circle cx="1164.5" cy="29.5" r="1.7" fill="#2b6e9c"/>
<circle cx="1176.5" cy="29.5" r="1.7" fill="#2b6e9c"/>
<circle cx="1206.5" cy="29.5" r="1.7" fill="#2b6e9c"/>
<circle cx="1212.5" cy="29.5" r="1.7" fill="#2b6e9c"/>
<circle cx="1218.5" cy="29.5" r="1.7" fill="#2b6e9c"/>
<circle cx="1344.5" cy="29.5" r="1.7" fill="#2b6e9c"/>
<circle cx="1350.5" cy="29.5" r="1.7" fill="#2b6e9c"/>
<circle cx="1362.5" cy="29.5" r="1.7" fill="#2b6e9c"/>
<circle cx="1368.5" cy="29.5" r="1.7" fill="#2b6e9c"/>
<circle cx="1374.5" cy="29.5" r="1.7" fill="#2b6e9c"/>
<circle cx="1404.5" cy="29.5" r="1.7" fill="#2b6e9c"/>
<circle cx="1440.5" cy="29.5" r="1.7" fill="#2b6e9c"/>
<circle cx="1446.5" cy="29.5" r="1.7" fill="#2b6e9c"/>
<circle cx="1452.5" cy="29.5" r="1.7" fill="#2b6e9c"/>
<circle cx="1464.5" cy="29.5" r="1.7" fill="#2b6e9c"/>
<circle cx="1470.5" cy="29.5" r="1.7" fill="#2b6e9c"/>
<circle cx="1482.5" cy="29.5" r="1.7" fill="#2b6e9c"/>
<rect x="267" y="109" width="7" height="1.2" fill="#111"/>
<rect x="269" y="107" width="1.1" height="2" fill="#111"/>
<text x="274.5" y="106" font-size="12.2" font-weight="bold" fill="#ad5650">130.50</text>
<rect x="687" y="192" width="7" height="1.2" fill="#111"/>
<rect x="689" y="190" width="1.1" height="2" fill="#111"/>
<text x="694.5" y="189" font-size="12.2" font-weight="bold" fill="#ad5650">123.68</text>
<rect x="1455" y="843" width="7" height="1.2" fill="#111"/>
<rect x="1457" y="844" width="1.1" height="2" fill="#111"/>
<text x="1462.5" y="855" font-size="12.2" font-weight="bold" fill="#5f935f">70.08</text>
<rect x="57" y="703" width="7" height="1.2" fill="#111"/>
<rect x="59" y="704" width="1.1" height="2" fill="#111"/>
<text x="64" y="715" font-size="12.2" font-weight="bold" fill="#64a064">81.58</text>
<text x="1564.7" y="24.3" font-size="12.2" fill="#383838">137.75</text>
<text x="51.5" y="24.3" font-size="12.2" fill="#383838" text-anchor="end">137.75</text>
<rect x="52" y="19.5" width="3.5" height="1" fill="#aaa"/>
<rect x="1562" y="19.5" width="3" height="1" fill="#aaa"/>
<text x="1564.7" y="79.2" font-size="12.2" fill="#383838">133.22</text>
<text x="51.5" y="79.2" font-size="12.2" fill="#383838" text-anchor="end">133.22</text>
<rect x="52" y="74.5" width="3.5" height="1" fill="#aaa"/>
<rect x="1562" y="74.5" width="3" height="1" fill="#aaa"/>
<text x="1564.7" y="134.2" font-size="12.2" fill="#383838">128.70</text>
<text x="51.5" y="134.2" font-size="12.2" fill="#383838" text-anchor="end">128.70</text>
<rect x="52" y="129.4" width="3.5" height="1" fill="#aaa"/>
<rect x="1562" y="129.4" width="3" height="1" fill="#aaa"/>
<text x="1564.7" y="189.2" font-size="12.2" fill="#383838">124.17</text>
<text x="51.5" y="189.2" font-size="12.2" fill="#383838" text-anchor="end">124.17</text>
<rect x="52" y="184.4" width="3.5" height="1" fill="#aaa"/>
<rect x="1562" y="184.4" width="3" height="1" fill="#aaa"/>
<text x="1564.7" y="244.1" font-size="12.2" fill="#383838">119.65</text>
<text x="51.5" y="244.1" font-size="12.2" fill="#383838" text-anchor="end">119.65</text>
<rect x="52" y="239.3" width="3.5" height="1" fill="#aaa"/>
<rect x="1562" y="239.3" width="3" height="1" fill="#aaa"/>
<text x="1564.7" y="299.1" font-size="12.2" fill="#383838">115.12</text>
<text x="51.5" y="299.1" font-size="12.2" fill="#383838" text-anchor="end">115.12</text>
<rect x="52" y="294.2" width="3.5" height="1" fill="#aaa"/>
<rect x="1562" y="294.2" width="3" height="1" fill="#aaa"/>
<text x="1564.7" y="354.0" font-size="12.2" fill="#383838">110.60</text>
<text x="51.5" y="354.0" font-size="12.2" fill="#383838" text-anchor="end">110.60</text>
<rect x="52" y="349.2" width="3.5" height="1" fill="#aaa"/>
<rect x="1562" y="349.2" width="3" height="1" fill="#aaa"/>
<text x="1564.7" y="409.0" font-size="12.2" fill="#383838">106.07</text>
<text x="51.5" y="409.0" font-size="12.2" fill="#383838" text-anchor="end">106.07</text>
<rect x="52" y="404.2" width="3.5" height="1" fill="#aaa"/>
<rect x="1562" y="404.2" width="3" height="1" fill="#aaa"/>
<text x="1564.7" y="463.9" font-size="12.2" fill="#383838">101.55</text>
<text x="51.5" y="463.9" font-size="12.2" fill="#383838" text-anchor="end">101.55</text>
<rect x="52" y="459.1" width="3.5" height="1" fill="#aaa"/>
<rect x="1562" y="459.1" width="3" height="1" fill="#aaa"/>
<text x="1564.7" y="518.8" font-size="12.2" fill="#383838">97.02</text>
<text x="51.5" y="518.8" font-size="12.2" fill="#383838" text-anchor="end">97.02</text>
<rect x="52" y="514.0" width="3.5" height="1" fill="#aaa"/>
<rect x="1562" y="514.0" width="3" height="1" fill="#aaa"/>
<text x="1564.7" y="573.8" font-size="12.2" fill="#383838">92.50</text>
<text x="51.5" y="573.8" font-size="12.2" fill="#383838" text-anchor="end">92.50</text>
<rect x="52" y="569.0" width="3.5" height="1" fill="#aaa"/>
<rect x="1562" y="569.0" width="3" height="1" fill="#aaa"/>
<text x="1564.7" y="628.8" font-size="12.2" fill="#383838">87.97</text>
<text x="51.5" y="628.8" font-size="12.2" fill="#383838" text-anchor="end">87.97</text>
<rect x="52" y="624.0" width="3.5" height="1" fill="#aaa"/>
<rect x="1562" y="624.0" width="3" height="1" fill="#aaa"/>
<text x="1564.7" y="683.7" font-size="12.2" fill="#383838">83.45</text>
<text x="51.5" y="683.7" font-size="12.2" fill="#383838" text-anchor="end">83.45</text>
<rect x="52" y="678.9" width="3.5" height="1" fill="#aaa"/>
<rect x="1562" y="678.9" width="3" height="1" fill="#aaa"/>
<text x="1564.7" y="738.6" font-size="12.2" fill="#383838">78.92</text>
<text x="51.5" y="738.6" font-size="12.2" fill="#383838" text-anchor="end">78.92</text>
<rect x="52" y="733.9" width="3.5" height="1" fill="#aaa"/>
<rect x="1562" y="733.9" width="3" height="1" fill="#aaa"/>
<text x="1564.7" y="793.6" font-size="12.2" fill="#383838">74.40</text>
<text x="51.5" y="793.6" font-size="12.2" fill="#383838" text-anchor="end">74.40</text>
<rect x="52" y="788.8" width="3.5" height="1" fill="#aaa"/>
<rect x="1562" y="788.8" width="3" height="1" fill="#aaa"/>
<text x="1564.7" y="848.5" font-size="12.2" fill="#383838">69.87</text>
<text x="51.5" y="848.5" font-size="12.2" fill="#383838" text-anchor="end">69.87</text>
<rect x="52" y="843.8" width="3.5" height="1" fill="#aaa"/>
<rect x="1562" y="843.8" width="3" height="1" fill="#aaa"/>
<rect x="1561.5" y="758.5" width="60" height="17" fill="#fff" stroke="#e2b24a" stroke-width="1"/>
<text x="1564.5" y="772" font-size="12.2" fill="#d6a050">77.07</text>
<rect x="1561.5" y="134.5" width="60" height="16" fill="#fff" stroke="#e8e8ee" stroke-width="1"/>
<text x="1564" y="147.5" font-size="12.2" fill="#e0962e">128.37</text>
</svg>
<div class="hd" style="left:57px;width:62px;overflow:hidden;color:#222">美原油连续</div>
<div class="hd" style="left:117px;width:50px;overflow:hidden;color:#e8922c">【日线】</div>
<svg style="left:172px;top:2px" width="12" height="11"><rect x="0.5" y="0.5" width="11" height="10" fill="#fff" stroke="#3a2a6a"/><polyline points="1,8 4,4 6,7 10,2" fill="none" stroke="#c04080"/><polyline points="1,6 4,8 7,5 10,6" fill="none" stroke="#3a2a6a"/></svg>
<div class="hd" style="left:187px;color:#222">MA(5,10,30,60,100,200)</div>
<div class="hd" style="left:325px;color:#222">MA5:78.67</div>
<div class="hd" style="left:394px;color:#1e2a78">MA10:77.42</div>
<div class="hd" style="left:472px;color:#d040d0">MA30:77.34</div>
<div class="hd" style="left:548px;color:#e0962e">MA60:82.45</div>
<div class="hd" style="left:623px;color:#808080">MA100:84.24</div>
<div class="hd" style="left:706px;color:#c05050">MA200:94.80</div>
<div style="position:absolute;left:1420px;top:-1px;width:73px;height:14px;border:1px solid #555;background:#fff;font-size:12px;line-height:14px;color:#555;text-align:center;letter-spacing:0px">全部主题▼</div>
<svg style="left:1497px;top:0" width="64" height="15" viewBox="0 0 64 15">
<g fill="#e2f6fb" stroke="#1f5f70" stroke-width="1.6">
<rect x="1.5" y="-1" width="13" height="14.5"/><rect x="17.5" y="-1" width="13" height="14.5"/><rect x="33.5" y="-1" width="13" height="14.5"/><rect x="49.5" y="-1" width="13" height="14.5"/>
</g>
<g fill="#22606e">
<rect x="7" y="1.8" width="2" height="2.4"/><rect x="7" y="5.5" width="2" height="2"/><rect x="7" y="8.8" width="2" height="2.4"/>
<rect x="3.4" y="5.5" width="2.6" height="2"/><rect x="10" y="5.5" width="2.6" height="2"/>
<rect x="20.6" y="2.5" width="1.1" height="8.5"/><polygon points="21.15,1.8 19.6,4 22.7,4"/>
<rect x="19.6" y="10" width="9" height="1.1"/><polygon points="19,10.55 21,9.2 21,11.9"/><polygon points="29.2,10.55 27.2,9.2 27.2,11.9"/>
<rect x="23.8" y="3" width="1.1" height="4.5"/><polygon points="25.2,5.2 27.8,3 27.8,7.4"/>
<rect x="36.6" y="2.5" width="1.1" height="8.5"/><polygon points="37.15,1.8 35.6,4 38.7,4"/>
<rect x="35.6" y="10" width="9" height="1.1"/><polygon points="35,10.55 37,9.2 37,11.9"/><polygon points="45.2,10.55 43.2,9.2 43.2,11.9"/>
<polygon points="39.5,2.8 44,6.3 39.5,9.8" fill="#2a7a90"/>
<polygon points="53.2,6.5 58,6.5 58,4.5 61,7 58,9.5 58,7.8 53.2,7.8"/>
</g>
<rect x="52.3" y="2.3" width="2.4" height="9.4" fill="none" stroke="#22606e" stroke-width="1"/>
</svg>
</body></html>
